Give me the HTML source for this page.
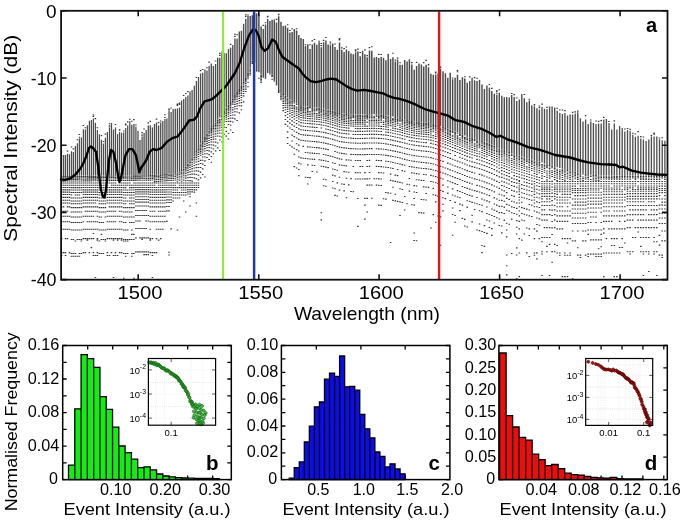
<!DOCTYPE html><html><head><meta charset="utf-8"><style>
html,body{margin:0;padding:0;background:#fff;width:685px;height:522px;overflow:hidden}
svg{display:block;will-change:transform}
</style></head><body>
<svg width="685" height="522" viewBox="0 0 685 522">
<path d="M61.6 155.1V176.0 M63.6 155.1V176.0 M65.5 155.1V175.9 M67.5 153.7V175.9 M69.5 154.3V175.9 M71.5 151.3V175.9 M73.4 152.0V175.9 M75.4 145.9V175.8 M77.4 143.3V175.8 M79.4 138.6V175.8 M81.4 137.6V175.8 M83.4 129.3V175.7 M85.4 129.4V175.7 M87.4 125.3V175.7 M89.4 120.8V175.7 M91.4 120.0V175.7 M93.4 118.4V175.6 M95.4 122.7V175.6 M97.4 130.0V175.6 M99.4 134.3V175.6 M101.4 139.7V175.5 M103.4 143.5V175.5 M105.4 137.8V175.5 M107.4 132.0V175.5 M109.5 128.1V175.5 M111.5 123.0V175.4 M113.5 129.5V175.4 M115.5 127.5V175.4 M117.6 133.9V175.4 M119.6 132.0V175.3 M121.6 132.7V175.3 M123.7 132.5V175.3 M125.7 127.9V175.3 M127.7 125.4V175.3 M129.8 121.2V175.2" stroke="#4d4d4d" stroke-width="1.25" fill="none"/>
<path d="M131.8 124.8V175.2 M133.9 123.9V175.2 M135.9 126.8V175.2 M138.0 130.8V175.1 M140.0 140.0V175.1 M142.1 136.6V175.1 M144.1 133.0V175.1 M146.2 130.0V175.0 M148.3 125.5V175.0 M150.3 125.3V175.0 M152.4 127.6V174.8 M154.5 124.0V174.7 M156.5 122.4V174.5 M158.6 125.6V174.3 M160.7 122.4V174.2 M162.8 121.1V174.0 M164.9 119.1V173.9 M166.9 118.6V173.7 M169.0 110.7V173.5 M171.1 112.0V173.4 M173.2 109.1V173.2 M175.3 108.7V173.1 M177.4 108.6V172.2 M179.5 107.4V171.1 M181.6 100.4V169.9 M183.7 98.9V168.7 M185.8 97.0V166.8 M187.9 95.4V163.6 M190.0 91.4V160.5 M192.1 90.0V157.3 M194.3 85.7V154.0 M196.4 80.9V150.7 M198.5 77.1V147.4 M200.6 73.6V143.6 M202.7 72.7V140.3 M204.9 69.4V137.0 M207.0 70.6V133.7 M209.1 66.0V130.8 M614.3 123.4V175.6 M616.9 129.4V175.6 M619.6 126.1V175.6 M622.2 128.1V175.7 M624.8 131.5V175.7 M627.5 130.0V175.7 M630.1 131.1V175.7 M632.8 134.8V175.7 M635.4 136.7V175.8 M638.1 135.8V175.8 M640.8 138.5V175.8 M643.4 139.4V175.8 M646.1 141.1V175.8 M648.8 139.5V175.9 M651.4 136.8V175.9 M654.1 136.4V175.9 M656.8 136.4V175.9 M659.5 139.2V175.9 M662.2 140.2V176.0 M664.9 140.7V176.0" stroke="#4d4d4d" stroke-width="1.30" fill="none"/>
<path d="M211.3 63.5V128.0 M213.4 66.1V125.2 M215.6 64.0V122.2 M217.7 57.7V119.2 M219.8 57.7V116.3 M222.0 53.2V113.3 M224.1 53.3V110.4 M226.3 53.2V107.6 M228.5 49.0V104.6 M542.0 107.0V162.6 M544.5 108.7V163.3 M547.0 109.2V164.1 M549.6 106.6V164.9 M552.1 106.6V165.6 M554.7 107.6V166.4 M557.2 110.8V167.2 M559.8 113.0V167.9 M562.4 114.0V168.6 M564.9 113.0V169.2 M567.5 115.4V169.9 M570.1 114.4V170.5 M572.6 114.6V171.2 M575.2 113.6V171.8 M577.8 112.3V172.5 M580.4 118.2V173.0 M583.0 121.4V173.4 M585.6 119.6V173.7 M588.2 124.0V174.0 M590.8 121.5V174.3 M593.4 123.0V174.7 M596.0 123.9V175.0 M598.6 123.4V175.3 M601.2 123.6V175.5 M603.8 119.4V175.5 M606.4 118.9V175.5 M609.0 122.9V175.6 M611.7 129.4V175.6" stroke="#4d4d4d" stroke-width="1.35" fill="none"/>
<path d="M230.6 47.7V101.4 M232.8 45.1V98.2 M234.9 38.5V95.0 M237.1 38.7V92.0 M239.3 31.5V89.0 M241.4 30.8V85.9 M243.6 23.7V81.9 M245.8 18.7V77.5 M248.0 16.1V72.7 M506.7 97.0V151.0 M509.2 97.4V152.0 M511.7 94.9V153.5 M514.2 97.0V154.3 M516.7 100.9V155.0 M519.3 99.5V155.8 M521.8 94.3V156.5 M524.3 98.3V157.3 M526.8 102.2V158.0 M529.3 100.5V158.8 M531.8 105.3V159.6 M534.4 106.3V160.3 M536.9 108.2V161.1 M539.4 109.6V161.8" stroke="#4d4d4d" stroke-width="1.40" fill="none"/>
<path d="M250.2 15.9V67.3 M252.3 15.3V60.2 M254.5 13.2V59.8 M256.7 13.3V69.2 M258.9 14.2V72.2 M261.1 26.4V74.7 M263.3 29.1V77.8 M265.5 24.5V78.8 M267.7 18.9V73.0 M269.9 21.0V73.2 M469.7 81.0V137.2 M472.1 77.7V138.0 M474.6 80.2V138.7 M477.0 81.1V139.4 M479.5 80.1V140.0 M482.0 84.6V140.9 M484.4 89.1V141.8 M486.9 85.4V142.7 M489.4 87.8V143.7 M491.8 90.9V144.7 M494.3 93.8V145.8 M496.8 95.0V147.0 M499.3 92.7V148.3 M501.8 95.7V149.2 M504.3 97.2V150.1" stroke="#4d4d4d" stroke-width="1.45" fill="none"/>
<path d="M272.1 19.7V74.7 M274.3 19.4V80.4 M276.5 22.4V85.6 M278.7 16.2V89.2 M281.0 21.8V92.0 M283.2 26.1V93.9 M285.4 25.4V95.7 M287.6 27.8V97.5 M289.9 32.4V99.3 M292.1 32.0V100.8 M294.3 28.9V102.3 M296.6 30.4V103.7 M298.8 34.9V105.0 M301.0 38.0V105.9 M303.3 39.1V106.2 M305.5 46.0V106.5 M307.8 44.2V106.7 M310.0 48.9V107.0 M312.3 44.6V107.1 M314.5 42.7V107.3 M316.8 44.7V107.5 M319.1 42.3V107.8 M321.3 47.3V108.1 M323.6 42.3V108.5 M325.9 40.4V109.0 M328.1 44.5V109.6 M330.4 45.2V110.2 M332.7 43.6V110.8 M335.0 46.9V111.5 M337.3 49.7V112.2 M339.5 42.4V112.9 M341.8 49.8V113.3 M344.1 51.9V113.6 M346.4 49.5V113.9 M348.7 50.9V114.1 M351.0 53.4V114.3 M353.3 54.2V114.5 M355.6 52.2V114.6 M357.9 51.3V114.6 M360.2 56.2V114.6 M362.6 50.7V114.6 M364.9 54.2V114.5 M367.2 57.3V114.4 M369.5 50.5V114.4 M371.8 50.8V114.3 M374.2 57.6V114.3 M376.5 57.0V114.4 M378.8 57.9V114.5 M381.2 56.9V114.7 M383.5 57.8V114.9 M385.9 60.3V115.2 M388.2 53.8V115.6 M390.6 58.9V116.0 M392.9 57.2V116.5 M395.3 61.4V117.0 M397.6 59.6V117.5 M400.0 64.7V118.0 M402.3 64.7V118.7 M404.7 59.9V119.3 M407.1 61.6V119.9 M409.4 59.2V120.4 M411.8 64.4V120.9 M414.2 69.7V121.3 M416.6 66.1V121.7 M419.0 63.6V122.0 M421.4 64.5V122.2 M423.7 66.5V122.5 M426.1 64.7V122.7 M428.5 67.3V123.0 M430.9 73.8V123.4 M433.3 74.8V124.0 M435.7 74.6V124.7 M438.1 73.6V125.4 M440.5 68.8V126.2 M443.0 71.2V127.0 M445.4 73.2V127.9 M447.8 77.7V128.8 M450.2 72.7V129.7 M452.6 79.2V130.7 M455.1 77.7V131.6 M457.5 74.7V132.5 M459.9 80.0V133.4 M462.4 77.3V134.5 M464.8 78.6V135.4 M467.2 82.7V136.4" stroke="#4d4d4d" stroke-width="1.50" fill="none"/>
<path d="M61.6 151.5v1.1M61.6 176.1v1.1M61.6 177.5v1.1M61.6 178.9v1.1M61.6 180.6v1.1M61.6 182.4v1.1M61.6 184.7v1.1M61.6 187.0v1.1M61.6 189.3v1.1M61.6 191.6v1.1M61.6 193.9v1.1M61.6 196.8v1.1M61.6 199.7v1.1M61.6 202.4v1.1M61.6 206.3v1.1M61.6 210.7v1.1M61.6 215.7v1.1M61.6 221.2v1.1M61.6 228.7v1.1M61.6 238.1v1.1M61.6 252.1v1.1M61.6 254.9v1.1M63.6 176.1v1.1M63.6 177.4v1.1M63.6 178.9v1.1M63.6 180.6v1.1M63.6 182.4v1.1M63.6 184.7v1.1M63.6 187.0v1.1M63.6 189.3v1.1M63.6 191.6v1.1M63.6 193.9v1.1M63.6 196.8v1.1M63.6 199.7v1.1M63.6 202.4v1.1M63.6 206.3v1.1M63.6 210.7v1.1M63.6 215.7v1.1M63.6 221.2v1.1M63.6 228.7v1.1M63.6 252.1v1.1M65.5 176.1v1.1M65.5 177.4v1.1M65.5 178.9v1.1M65.5 180.5v1.1M65.5 182.4v1.1M65.5 184.7v1.1M65.5 187.0v1.1M65.5 189.3v1.1M65.5 191.6v1.1M65.5 193.9v1.1M65.5 196.8v1.1M65.5 199.7v1.1M65.5 202.4v1.1M65.5 210.7v1.1M65.5 215.7v1.1M65.5 221.2v1.1M65.5 228.7v1.1M65.5 238.1v1.1M65.5 252.1v1.1M65.5 254.9v1.1M67.5 150.6v1.1M67.5 176.1v1.1M67.5 177.4v1.1M67.5 178.9v1.1M67.5 180.5v1.1M67.5 182.4v1.1M67.5 184.7v1.1M67.5 187.0v1.1M67.5 189.3v1.1M67.5 191.6v1.1M67.5 193.9v1.1M67.5 196.8v1.1M67.5 199.7v1.1M67.5 202.4v1.1M67.5 206.3v1.1M67.5 210.7v1.1M67.5 215.7v1.1M67.5 221.2v1.1M67.5 228.7v1.1M67.5 238.1v1.1M69.5 176.1v1.1M69.5 177.4v1.1M69.5 178.8v1.1M69.5 180.5v1.1M69.5 182.4v1.1M69.5 184.7v1.1M69.5 187.0v1.1M69.5 189.3v1.1M69.5 191.6v1.1M69.5 193.9v1.1M69.5 196.8v1.1M69.5 199.7v1.1M69.5 202.4v1.1M69.5 206.3v1.1M69.5 215.7v1.1M69.5 221.2v1.1M69.5 228.7v1.1M69.5 252.1v1.1M71.5 146.4v1.1M71.5 176.0v1.1M71.5 177.4v1.1M71.5 178.8v1.1M71.5 180.5v1.1M71.5 182.4v1.1M71.5 184.7v1.1M71.5 187.1v1.1M71.5 189.5v1.1M71.5 191.9v1.1M71.5 194.4v1.1M71.5 197.4v1.1M71.5 200.5v1.1M71.5 203.2v1.1M71.5 207.1v1.1M71.5 211.5v1.1M71.5 216.5v1.1M71.5 222.0v1.1M71.5 229.5v1.1M71.5 238.9v1.1M71.5 252.9v1.1M71.5 255.7v1.1M73.4 148.3v1.1M73.4 176.0v1.1M73.4 177.3v1.1M73.4 178.8v1.1M73.4 180.5v1.1M73.4 182.4v1.1M73.4 184.7v1.1M73.4 187.1v1.1M73.4 189.5v1.1M73.4 191.9v1.1M73.4 197.4v1.1M73.4 200.5v1.1M73.4 203.2v1.1M73.4 207.1v1.1M73.4 211.5v1.1M73.4 216.5v1.1M73.4 222.0v1.1M73.4 229.5v1.1M73.4 238.9v1.1M73.4 252.9v1.1M73.4 255.7v1.1M75.4 176.0v1.1M75.4 177.3v1.1M75.4 178.8v1.1M75.4 180.4v1.1M75.4 182.4v1.1M75.4 184.7v1.1M75.4 187.1v1.1M75.4 189.5v1.1M75.4 191.9v1.1M75.4 194.4v1.1M75.4 197.4v1.1M75.4 200.5v1.1M75.4 203.2v1.1M75.4 207.1v1.1M75.4 211.5v1.1M75.4 216.5v1.1M75.4 222.0v1.1M75.4 229.5v1.1M75.4 240.4v1.1M75.4 252.9v1.1M75.4 255.7v1.1M77.4 139.2v1.1M77.4 176.0v1.1M77.4 177.3v1.1M77.4 178.8v1.1M77.4 180.4v1.1M77.4 182.4v1.1M77.4 184.7v1.1M77.4 187.1v1.1M77.4 189.5v1.1M77.4 191.9v1.1M77.4 194.4v1.1M77.4 197.4v1.1M77.4 200.5v1.1M77.4 203.2v1.1M77.4 207.1v1.1M77.4 211.5v1.1M77.4 216.5v1.1M77.4 222.0v1.1M77.4 229.5v1.1M77.4 238.9v1.1M77.4 255.7v1.1M79.4 134.0v1.1M79.4 136.7v1.1M79.4 175.9v1.1M79.4 177.3v1.1M79.4 178.7v1.1M79.4 180.4v1.1M79.4 182.4v1.1M79.4 184.7v1.1M79.4 187.1v1.1M79.4 189.5v1.1M79.4 191.9v1.1M79.4 194.4v1.1M79.4 197.4v1.1M79.4 200.5v1.1M79.4 203.2v1.1M79.4 207.1v1.1M79.4 211.5v1.1M79.4 216.5v1.1M79.4 222.0v1.1M79.4 229.5v1.1M79.4 238.9v1.1M79.4 252.9v1.1M79.4 255.7v1.1M81.4 175.9v1.1M81.4 177.2v1.1M81.4 178.7v1.1M81.4 180.4v1.1M81.4 182.4v1.1M81.4 184.7v1.1M81.4 187.1v1.1M81.4 189.5v1.1M81.4 191.9v1.1M81.4 197.4v1.1M81.4 200.5v1.1M81.4 203.2v1.1M81.4 207.1v1.1M81.4 211.5v1.1M81.4 216.5v1.1M81.4 222.0v1.1M81.4 229.5v1.1M81.4 238.9v1.1M81.4 240.4v1.1M81.4 252.9v1.1M83.4 125.0v1.1M83.4 175.9v1.1M83.4 177.2v1.1M83.4 178.7v1.1M83.4 180.3v1.1M83.4 182.4v1.1M83.4 184.7v1.1M83.4 187.0v1.1M83.4 189.3v1.1M83.4 191.6v1.1M83.4 193.9v1.1M83.4 196.8v1.1M83.4 199.7v1.1M83.4 202.4v1.1M83.4 206.3v1.1M83.4 215.7v1.1M83.4 221.2v1.1M83.4 228.7v1.1M83.4 238.1v1.1M83.4 252.1v1.1M85.4 127.2v1.1M85.4 175.9v1.1M85.4 177.2v1.1M85.4 178.7v1.1M85.4 180.3v1.1M85.4 182.4v1.1M85.4 184.7v1.1M85.4 187.0v1.1M85.4 189.3v1.1M85.4 191.6v1.1M85.4 193.9v1.1M85.4 196.8v1.1M85.4 199.7v1.1M85.4 202.4v1.1M85.4 206.3v1.1M85.4 210.7v1.1M85.4 215.7v1.1M85.4 228.7v1.1M85.4 238.1v1.1M85.4 252.1v1.1M87.4 175.9v1.1M87.4 177.2v1.1M87.4 178.6v1.1M87.4 180.3v1.1M87.4 182.4v1.1M87.4 184.7v1.1M87.4 187.0v1.1M87.4 189.3v1.1M87.4 191.6v1.1M87.4 193.9v1.1M87.4 196.8v1.1M87.4 199.7v1.1M87.4 202.4v1.1M87.4 206.3v1.1M87.4 210.7v1.1M87.4 215.7v1.1M87.4 221.2v1.1M87.4 228.7v1.1M87.4 238.1v1.1M87.4 239.6v1.1M89.4 175.8v1.1M89.4 177.1v1.1M89.4 178.6v1.1M89.4 180.3v1.1M89.4 182.4v1.1M89.4 184.7v1.1M89.4 187.0v1.1M89.4 189.3v1.1M89.4 191.6v1.1M89.4 193.9v1.1M89.4 196.8v1.1M89.4 199.7v1.1M89.4 202.4v1.1M89.4 206.3v1.1M89.4 210.7v1.1M89.4 215.7v1.1M89.4 221.2v1.1M89.4 228.7v1.1M89.4 238.1v1.1M89.4 252.1v1.1M91.4 175.8v1.1M91.4 177.1v1.1M91.4 178.6v1.1M91.4 180.3v1.1M91.4 182.4v1.1M91.4 184.7v1.1M91.4 187.0v1.1M91.4 189.3v1.1M91.4 191.6v1.1M91.4 193.9v1.1M91.4 196.8v1.1M91.4 199.7v1.1M91.4 202.4v1.1M91.4 206.3v1.1M91.4 210.7v1.1M91.4 215.7v1.1M91.4 221.2v1.1M91.4 228.7v1.1M91.4 238.1v1.1M91.4 247.1v1.1M93.4 114.3v1.1M93.4 115.9v1.1M93.4 175.8v1.1M93.4 177.1v1.1M93.4 178.6v1.1M93.4 180.2v1.1M93.4 182.4v1.1M93.4 184.7v1.1M93.4 187.0v1.1M93.4 189.3v1.1M93.4 191.6v1.1M93.4 193.9v1.1M93.4 196.8v1.1M93.4 199.7v1.1M93.4 202.4v1.1M93.4 206.3v1.1M93.4 210.7v1.1M93.4 215.7v1.1M93.4 221.2v1.1M93.4 228.7v1.1M93.4 233.0v1.1M93.4 238.1v1.1M93.4 252.1v1.1M93.4 254.9v1.1M95.4 118.1v1.1M95.4 175.8v1.1M95.4 177.1v1.1M95.4 178.6v1.1M95.4 180.2v1.1M95.4 182.4v1.1M95.4 184.7v1.1M95.4 187.0v1.1M95.4 189.3v1.1M95.4 191.6v1.1M95.4 193.9v1.1M95.4 196.8v1.1M95.4 199.7v1.1M95.4 202.4v1.1M95.4 206.3v1.1M95.4 210.7v1.1M95.4 221.2v1.1M95.4 228.7v1.1M95.4 254.9v1.1M95.4 276.9v1.1M97.4 127.2v1.1M97.4 175.7v1.1M97.4 177.1v1.1M97.4 178.5v1.1M97.4 180.2v1.1M97.4 182.4v1.1M97.4 184.7v1.1M97.4 187.0v1.1M97.4 189.3v1.1M97.4 191.6v1.1M97.4 193.9v1.1M97.4 196.8v1.1M97.4 199.7v1.1M97.4 206.3v1.1M97.4 210.7v1.1M97.4 215.7v1.1M97.4 221.2v1.1M97.4 228.7v1.1M97.4 238.1v1.1M97.4 239.6v1.1M97.4 252.1v1.1M97.4 254.9v1.1M99.4 175.7v1.1M99.4 177.0v1.1M99.4 178.5v1.1M99.4 180.2v1.1M99.4 182.4v1.1M99.4 184.7v1.1M99.4 187.1v1.1M99.4 189.5v1.1M99.4 191.9v1.1M99.4 194.4v1.1M99.4 197.4v1.1M99.4 200.5v1.1M99.4 203.2v1.1M99.4 207.1v1.1M99.4 211.5v1.1M99.4 216.5v1.1M99.4 222.0v1.1M99.4 229.5v1.1M99.4 240.4v1.1M99.4 252.9v1.1M101.4 135.1v1.1M101.4 175.7v1.1M101.4 177.0v1.1M101.4 178.5v1.1M101.4 180.1v1.1M101.4 182.4v1.1M101.4 184.7v1.1M101.4 187.1v1.1M101.4 189.5v1.1M101.4 191.9v1.1M101.4 194.4v1.1M101.4 197.4v1.1M101.4 200.5v1.1M101.4 203.2v1.1M101.4 207.1v1.1M101.4 211.5v1.1M101.4 216.5v1.1M101.4 222.0v1.1M101.4 229.5v1.1M101.4 233.8v1.1M101.4 238.9v1.1M101.4 252.9v1.1M103.4 141.0v1.1M103.4 175.7v1.1M103.4 177.0v1.1M103.4 178.5v1.1M103.4 180.1v1.1M103.4 182.4v1.1M103.4 184.7v1.1M103.4 187.1v1.1M103.4 189.5v1.1M103.4 191.9v1.1M103.4 194.4v1.1M103.4 197.4v1.1M103.4 200.5v1.1M103.4 203.2v1.1M103.4 207.1v1.1M103.4 211.5v1.1M103.4 222.0v1.1M103.4 229.5v1.1M103.4 238.9v1.1M103.4 252.9v1.1M105.4 133.6v1.1M105.4 175.7v1.1M105.4 177.0v1.1M105.4 178.4v1.1M105.4 180.1v1.1M105.4 182.4v1.1M105.4 184.7v1.1M105.4 187.1v1.1M105.4 189.5v1.1M105.4 191.9v1.1M105.4 194.4v1.1M105.4 197.4v1.1M105.4 200.5v1.1M105.4 203.2v1.1M105.4 207.1v1.1M105.4 211.5v1.1M105.4 216.5v1.1M105.4 229.5v1.1M105.4 238.9v1.1M105.4 240.4v1.1M107.4 175.6v1.1M107.4 176.9v1.1M107.4 178.4v1.1M107.4 180.1v1.1M107.4 182.4v1.1M107.4 184.7v1.1M107.4 187.0v1.1M107.4 189.3v1.1M107.4 191.6v1.1M107.4 193.9v1.1M107.4 196.8v1.1M107.4 199.7v1.1M107.4 202.4v1.1M107.4 210.7v1.1M107.4 215.7v1.1M107.4 221.2v1.1M107.4 228.7v1.1M107.4 238.1v1.1M107.4 252.1v1.1M107.4 254.9v1.1M109.5 123.2v1.1M109.5 125.2v1.1M109.5 126.4v1.1M109.5 175.6v1.1M109.5 176.9v1.1M109.5 178.4v1.1M109.5 180.1v1.1M109.5 182.4v1.1M109.5 187.0v1.1M109.5 189.3v1.1M109.5 191.6v1.1M109.5 193.9v1.1M109.5 196.8v1.1M109.5 199.7v1.1M109.5 202.4v1.1M109.5 206.3v1.1M109.5 210.7v1.1M109.5 215.7v1.1M109.5 221.2v1.1M109.5 228.7v1.1M109.5 238.1v1.1M109.5 254.9v1.1M111.5 175.6v1.1M111.5 176.9v1.1M111.5 178.4v1.1M111.5 180.0v1.1M111.5 182.4v1.1M111.5 184.7v1.1M111.5 187.0v1.1M111.5 189.3v1.1M111.5 191.6v1.1M111.5 193.9v1.1M111.5 196.8v1.1M111.5 199.7v1.1M111.5 202.4v1.1M111.5 206.3v1.1M111.5 210.7v1.1M111.5 215.7v1.1M111.5 221.2v1.1M111.5 228.7v1.1M111.5 238.1v1.1M111.5 252.1v1.1M113.5 175.6v1.1M113.5 176.9v1.1M113.5 178.4v1.1M113.5 180.0v1.1M113.5 182.4v1.1M113.5 184.7v1.1M113.5 187.0v1.1M113.5 189.3v1.1M113.5 191.6v1.1M113.5 193.9v1.1M113.5 196.8v1.1M113.5 199.7v1.1M113.5 202.4v1.1M113.5 206.3v1.1M113.5 210.7v1.1M113.5 215.7v1.1M113.5 221.2v1.1M113.5 228.7v1.1M113.5 238.1v1.1M113.5 239.6v1.1M113.5 254.9v1.1M113.5 276.9v1.1M115.5 124.0v1.1M115.5 175.5v1.1M115.5 176.9v1.1M115.5 178.3v1.1M115.5 180.0v1.1M115.5 182.4v1.1M115.5 184.7v1.1M115.5 187.0v1.1M115.5 189.3v1.1M115.5 191.6v1.1M115.5 193.9v1.1M115.5 196.8v1.1M115.5 199.7v1.1M115.5 202.4v1.1M115.5 206.3v1.1M115.5 210.7v1.1M115.5 215.7v1.1M115.5 221.2v1.1M115.5 228.7v1.1M115.5 238.1v1.1M115.5 252.1v1.1M115.5 254.9v1.1M117.6 175.5v1.1M117.6 176.8v1.1M117.6 178.3v1.1M117.6 180.0v1.1M117.6 184.7v1.1M117.6 187.0v1.1M117.6 189.3v1.1M117.6 191.6v1.1M117.6 193.9v1.1M117.6 196.8v1.1M117.6 199.7v1.1M117.6 202.4v1.1M117.6 206.3v1.1M117.6 215.7v1.1M117.6 228.7v1.1M117.6 238.1v1.1M117.6 239.6v1.1M117.6 254.9v1.1M119.6 129.2v1.1M119.6 129.7v1.1M119.6 175.5v1.1M119.6 176.8v1.1M119.6 178.3v1.1M119.6 179.9v1.1M119.6 182.4v1.1M119.6 184.7v1.1M119.6 187.0v1.1M119.6 189.3v1.1M119.6 191.6v1.1M119.6 193.9v1.1M119.6 196.8v1.1M119.6 199.7v1.1M119.6 202.4v1.1M119.6 206.3v1.1M119.6 210.7v1.1M119.6 215.7v1.1M119.6 221.2v1.1M119.6 228.7v1.1M119.6 238.1v1.1M119.6 252.1v1.1M121.6 175.5v1.1M121.6 176.8v1.1M121.6 178.3v1.1M121.6 179.9v1.1M121.6 182.4v1.1M121.6 184.7v1.1M121.6 187.0v1.1M121.6 189.3v1.1M121.6 191.6v1.1M121.6 193.9v1.1M121.6 196.8v1.1M121.6 199.7v1.1M121.6 202.4v1.1M121.6 206.3v1.1M121.6 210.7v1.1M121.6 215.7v1.1M121.6 221.2v1.1M121.6 228.7v1.1M121.6 238.1v1.1M121.6 239.6v1.1M121.6 252.1v1.1M123.7 130.5v1.1M123.7 175.4v1.1M123.7 176.8v1.1M123.7 178.2v1.1M123.7 179.9v1.1M123.7 182.4v1.1M123.7 184.7v1.1M123.7 187.1v1.1M123.7 189.5v1.1M123.7 191.9v1.1M123.7 194.4v1.1M123.7 197.4v1.1M123.7 200.5v1.1M123.7 203.2v1.1M123.7 207.1v1.1M123.7 211.5v1.1M123.7 216.5v1.1M123.7 222.0v1.1M123.7 229.5v1.1M123.7 238.9v1.1M123.7 240.4v1.1M123.7 252.9v1.1M123.7 277.7v1.1M125.7 123.4v1.1M125.7 124.3v1.1M125.7 175.4v1.1M125.7 176.7v1.1M125.7 178.2v1.1M125.7 179.9v1.1M125.7 182.4v1.1M125.7 184.7v1.1M125.7 187.1v1.1M125.7 189.5v1.1M125.7 191.9v1.1M125.7 194.4v1.1M125.7 197.4v1.1M125.7 200.5v1.1M125.7 203.2v1.1M125.7 207.1v1.1M125.7 211.5v1.1M125.7 216.5v1.1M125.7 222.0v1.1M125.7 229.5v1.1M125.7 238.9v1.1M125.7 240.4v1.1M125.7 252.9v1.1M125.7 255.7v1.1M127.7 121.3v1.1M127.7 175.4v1.1M127.7 176.7v1.1M127.7 178.2v1.1M127.7 179.8v1.1M127.7 182.4v1.1M127.7 184.7v1.1M127.7 189.5v1.1M127.7 191.9v1.1M127.7 194.4v1.1M127.7 200.5v1.1M127.7 207.1v1.1M127.7 211.5v1.1M127.7 216.5v1.1M127.7 229.5v1.1M127.7 238.9v1.1M127.7 240.4v1.1M127.7 252.9v1.1M129.8 118.7v1.1M129.8 175.4v1.1M129.8 176.7v1.1M129.8 178.2v1.1M129.8 179.8v1.1M129.8 182.4v1.1M129.8 184.7v1.1M129.8 187.1v1.1M129.8 189.5v1.1M129.8 191.9v1.1M129.8 194.4v1.1M129.8 197.4v1.1M129.8 200.5v1.1M129.8 203.2v1.1M129.8 207.1v1.1M129.8 211.5v1.1M129.8 216.5v1.1M129.8 222.0v1.1M129.8 238.9v1.1M131.8 120.7v1.1M131.8 175.4v1.1M131.8 176.7v1.1M131.8 178.1v1.1M131.8 179.8v1.1M131.8 184.7v1.1M131.8 187.1v1.1M131.8 189.5v1.1M131.8 191.9v1.1M131.8 194.4v1.1M131.8 197.4v1.1M131.8 200.5v1.1M131.8 203.2v1.1M131.8 207.1v1.1M131.8 211.5v1.1M131.8 216.5v1.1M131.8 222.0v1.1M131.8 229.5v1.1M131.8 233.8v1.1M131.8 238.9v1.1M131.8 252.9v1.1M131.8 255.7v1.1M133.9 119.1v1.1M133.9 175.3v1.1M133.9 176.6v1.1M133.9 178.1v1.1M133.9 179.8v1.1M133.9 182.4v1.1M133.9 184.7v1.1M133.9 187.1v1.1M133.9 189.5v1.1M133.9 191.9v1.1M133.9 194.4v1.1M133.9 197.4v1.1M133.9 200.5v1.1M133.9 203.2v1.1M133.9 207.1v1.1M133.9 216.5v1.1M133.9 222.0v1.1M133.9 233.8v1.1M133.9 238.9v1.1M133.9 252.9v1.1M133.9 277.7v1.1M135.9 124.5v1.1M135.9 175.3v1.1M135.9 176.6v1.1M135.9 178.1v1.1M135.9 179.8v1.1M135.9 182.4v1.1M135.9 184.7v1.1M135.9 186.9v1.1M135.9 189.1v1.1M135.9 191.3v1.1M135.9 193.4v1.1M135.9 196.2v1.1M135.9 198.9v1.1M135.9 201.6v1.1M135.9 205.5v1.1M135.9 209.9v1.1M135.9 214.9v1.1M135.9 220.4v1.1M135.9 227.9v1.1M135.9 237.3v1.1M135.9 251.3v1.1M138.0 175.3v1.1M138.0 176.6v1.1M138.0 178.1v1.1M138.0 179.7v1.1M138.0 182.4v1.1M138.0 184.7v1.1M138.0 186.9v1.1M138.0 189.1v1.1M138.0 191.3v1.1M138.0 193.4v1.1M138.0 196.2v1.1M138.0 198.9v1.1M138.0 201.6v1.1M138.0 205.5v1.1M138.0 209.9v1.1M138.0 214.9v1.1M138.0 220.4v1.1M138.0 227.9v1.1M138.0 251.3v1.1M140.0 175.3v1.1M140.0 176.6v1.1M140.0 178.1v1.1M140.0 179.7v1.1M140.0 182.4v1.1M140.0 184.7v1.1M140.0 186.9v1.1M140.0 189.1v1.1M140.0 191.3v1.1M140.0 193.4v1.1M140.0 196.2v1.1M140.0 198.9v1.1M140.0 201.6v1.1M140.0 205.5v1.1M140.0 209.9v1.1M140.0 214.9v1.1M140.0 220.4v1.1M140.0 227.9v1.1M140.0 237.3v1.1M140.0 251.3v1.1M142.1 132.1v1.1M142.1 134.6v1.1M142.1 175.2v1.1M142.1 176.6v1.1M142.1 178.0v1.1M142.1 179.7v1.1M142.1 182.4v1.1M142.1 184.7v1.1M142.1 186.9v1.1M142.1 189.1v1.1M142.1 191.3v1.1M142.1 193.4v1.1M142.1 196.2v1.1M142.1 198.9v1.1M142.1 201.6v1.1M142.1 205.5v1.1M142.1 209.9v1.1M142.1 214.9v1.1M142.1 227.9v1.1M142.1 237.3v1.1M142.1 238.8v1.1M142.1 251.3v1.1M144.1 128.5v1.1M144.1 175.2v1.1M144.1 176.5v1.1M144.1 178.0v1.1M144.1 179.7v1.1M144.1 182.4v1.1M144.1 184.7v1.1M144.1 186.9v1.1M144.1 189.1v1.1M144.1 191.3v1.1M144.1 193.4v1.1M144.1 196.2v1.1M144.1 198.9v1.1M144.1 201.6v1.1M144.1 205.5v1.1M144.1 209.9v1.1M144.1 214.9v1.1M144.1 227.9v1.1M144.1 237.3v1.1M144.1 251.3v1.1M144.1 254.1v1.1M146.2 175.2v1.1M146.2 176.5v1.1M146.2 178.0v1.1M146.2 179.6v1.1M146.2 182.4v1.1M146.2 184.7v1.1M146.2 186.9v1.1M146.2 189.1v1.1M146.2 191.3v1.1M146.2 193.4v1.1M146.2 196.2v1.1M146.2 198.9v1.1M146.2 201.6v1.1M146.2 205.5v1.1M146.2 209.9v1.1M146.2 214.9v1.1M146.2 220.4v1.1M146.2 227.9v1.1M146.2 237.3v1.1M146.2 251.3v1.1M146.2 254.1v1.1M148.3 122.3v1.1M148.3 175.2v1.1M148.3 176.5v1.1M148.3 178.0v1.1M148.3 179.6v1.1M148.3 182.4v1.1M148.3 184.7v1.1M148.3 186.9v1.1M148.3 189.1v1.1M148.3 191.3v1.1M148.3 193.4v1.1M148.3 196.2v1.1M148.3 198.9v1.1M148.3 201.6v1.1M148.3 205.5v1.1M148.3 214.9v1.1M148.3 220.4v1.1M148.3 237.3v1.1M148.3 251.3v1.1M148.3 254.1v1.1M150.3 120.8v1.1M150.3 175.1v1.1M150.3 176.4v1.1M150.3 177.9v1.1M150.3 179.6v1.1M150.3 182.4v1.1M150.3 184.7v1.1M150.3 187.0v1.1M150.3 189.3v1.1M150.3 191.6v1.1M150.3 193.9v1.1M150.3 196.8v1.1M150.3 199.7v1.1M150.3 202.4v1.1M150.3 206.3v1.1M150.3 210.7v1.1M150.3 215.7v1.1M150.3 221.2v1.1M150.3 228.7v1.1M150.3 238.1v1.1M150.3 239.6v1.1M150.3 252.1v1.1M152.4 175.0v1.1M152.4 176.3v1.1M152.4 177.8v1.1M152.4 179.4v1.1M152.4 182.4v1.1M152.4 184.7v1.1M152.4 187.0v1.1M152.4 189.3v1.1M152.4 191.6v1.1M152.4 193.9v1.1M152.4 196.8v1.1M152.4 199.7v1.1M152.4 202.4v1.1M152.4 206.3v1.1M152.4 210.7v1.1M152.4 215.7v1.1M152.4 221.2v1.1M152.4 238.1v1.1M152.4 252.1v1.1M152.4 254.9v1.1M152.4 276.9v1.1M154.5 174.8v1.1M154.5 176.1v1.1M154.5 177.6v1.1M154.5 179.3v1.1M154.5 181.1v1.1M154.5 182.4v1.1M154.5 184.7v1.1M154.5 187.0v1.1M154.5 189.3v1.1M154.5 191.6v1.1M154.5 193.9v1.1M154.5 196.8v1.1M154.5 199.7v1.1M154.5 202.4v1.1M154.5 206.3v1.1M154.5 210.7v1.1M154.5 215.7v1.1M154.5 221.2v1.1M154.5 252.1v1.1M156.5 118.6v1.1M156.5 174.6v1.1M156.5 176.0v1.1M156.5 177.4v1.1M156.5 179.1v1.1M156.5 180.9v1.1M156.5 182.4v1.1M156.5 187.0v1.1M156.5 189.3v1.1M156.5 191.6v1.1M156.5 193.9v1.1M156.5 196.8v1.1M156.5 199.7v1.1M156.5 202.4v1.1M156.5 206.3v1.1M156.5 215.7v1.1M156.5 221.2v1.1M156.5 228.7v1.1M156.5 238.1v1.1M156.5 252.1v1.1M158.6 122.1v1.1M158.6 174.5v1.1M158.6 175.8v1.1M158.6 177.3v1.1M158.6 178.9v1.1M158.6 180.8v1.1M158.6 182.4v1.1M158.6 184.7v1.1M158.6 187.0v1.1M158.6 189.3v1.1M158.6 191.6v1.1M158.6 193.9v1.1M158.6 196.8v1.1M158.6 199.7v1.1M158.6 202.4v1.1M158.6 206.3v1.1M158.6 210.7v1.1M158.6 215.7v1.1M158.6 221.2v1.1M158.6 228.7v1.1M158.6 239.6v1.1M160.7 120.5v1.1M160.7 174.3v1.1M160.7 175.6v1.1M160.7 177.1v1.1M160.7 178.8v1.1M160.7 180.6v1.1M160.7 182.4v1.1M160.7 184.7v1.1M160.7 187.0v1.1M160.7 189.3v1.1M160.7 191.6v1.1M160.7 193.9v1.1M160.7 196.8v1.1M160.7 199.7v1.1M160.7 202.4v1.1M160.7 206.3v1.1M160.7 210.7v1.1M160.7 215.7v1.1M160.7 221.2v1.1M160.7 228.7v1.1M160.7 238.1v1.1M162.8 174.2v1.1M162.8 175.5v1.1M162.8 177.0v1.1M162.8 178.6v1.1M162.8 180.5v1.1M162.8 182.4v1.1M162.8 184.7v1.1M162.8 187.0v1.1M162.8 189.3v1.1M162.8 191.6v1.1M162.8 193.9v1.1M162.8 196.8v1.1M162.8 199.7v1.1M162.8 202.4v1.1M162.8 206.3v1.1M162.8 210.7v1.1M162.8 215.7v1.1M162.8 221.2v1.1M162.8 228.7v1.1M164.9 114.2v1.1M164.9 116.9v1.1M164.9 174.0v1.1M164.9 175.3v1.1M164.9 176.8v1.1M164.9 178.5v1.1M164.9 180.3v1.1M164.9 182.4v1.1M164.9 184.7v1.1M164.9 187.0v1.1M164.9 189.3v1.1M164.9 191.6v1.1M164.9 193.9v1.1M164.9 196.8v1.1M164.9 199.7v1.1M164.9 202.4v1.1M164.9 206.3v1.1M164.9 210.7v1.1M164.9 215.7v1.1M164.9 221.2v1.1M166.9 173.8v1.1M166.9 175.2v1.1M166.9 176.6v1.1M166.9 178.3v1.1M166.9 180.1v1.1M166.9 182.4v1.1M166.9 184.7v1.1M166.9 186.9v1.1M166.9 189.2v1.1M166.9 191.4v1.1M166.9 193.7v1.1M166.9 196.5v1.1M166.9 199.3v1.1M166.9 202.0v1.1M166.9 205.9v1.1M166.9 210.3v1.1M166.9 220.8v1.1M169.0 108.6v1.1M169.0 109.1v1.1M169.0 173.7v1.1M169.0 175.0v1.1M169.0 176.5v1.1M169.0 178.1v1.1M169.0 180.0v1.1M169.0 182.4v1.1M169.0 184.7v1.1M169.0 186.9v1.1M169.0 189.2v1.1M169.0 191.4v1.1M169.0 193.7v1.1M169.0 196.5v1.1M169.0 199.3v1.1M169.0 202.0v1.1M169.0 205.9v1.1M169.0 210.3v1.1M169.0 251.7v1.1M169.0 254.5v1.1M171.1 107.5v1.1M171.1 173.5v1.1M171.1 174.8v1.1M171.1 176.3v1.1M171.1 178.0v1.1M171.1 179.8v1.1M171.1 182.4v1.1M171.1 184.7v1.1M171.1 186.9v1.1M171.1 189.2v1.1M171.1 191.4v1.1M171.1 193.7v1.1M171.1 196.5v1.1M171.1 199.3v1.1M171.1 202.0v1.1M171.1 228.3v1.1M173.2 173.4v1.1M173.2 174.7v1.1M173.2 176.2v1.1M173.2 177.8v1.1M173.2 179.7v1.1M173.2 182.4v1.1M173.2 184.7v1.1M173.2 187.1v1.1M173.2 189.5v1.1M173.2 191.9v1.1M173.2 194.4v1.1M173.2 197.4v1.1M173.2 200.5v1.1M175.3 173.2v1.1M175.3 174.5v1.1M175.3 176.0v1.1M175.3 177.7v1.1M175.3 179.5v1.1M175.3 182.4v1.1M175.3 184.7v1.1M175.3 187.1v1.1M175.3 189.5v1.1M175.3 191.9v1.1M175.3 194.4v1.1M175.3 197.4v1.1M177.4 103.6v1.1M177.4 104.8v1.1M177.4 172.4v1.1M177.4 173.7v1.1M177.4 175.2v1.1M177.4 176.8v1.1M177.4 178.7v1.1M177.4 180.7v1.1M177.4 182.4v1.1M177.4 187.1v1.1M177.4 189.5v1.1M177.4 191.9v1.1M177.4 194.4v1.1M177.4 197.4v1.1M177.4 229.5v1.1M179.5 102.6v1.1M179.5 103.8v1.1M179.5 171.2v1.1M179.5 172.5v1.1M179.5 174.0v1.1M179.5 175.7v1.1M179.5 177.5v1.1M179.5 179.6v1.1M179.5 182.4v1.1M179.5 184.7v1.1M179.5 187.1v1.1M179.5 191.9v1.1M179.5 194.4v1.1M179.5 197.4v1.1M179.5 216.5v1.1M181.6 170.0v1.1M181.6 171.4v1.1M181.6 172.8v1.1M181.6 174.5v1.1M181.6 176.3v1.1M181.6 178.4v1.1M181.6 180.7v1.1M181.6 182.4v1.1M181.6 184.7v1.1M181.6 187.1v1.1M181.6 189.5v1.1M181.6 191.9v1.1M181.6 194.4v1.1M183.7 94.9v1.1M183.7 168.9v1.1M183.7 170.2v1.1M183.7 171.7v1.1M183.7 173.3v1.1M183.7 175.2v1.1M183.7 177.2v1.1M183.7 179.6v1.1M183.7 182.4v1.1M183.7 184.7v1.1M183.7 187.1v1.1M183.7 189.5v1.1M183.7 191.9v1.1M183.7 194.4v1.1M183.7 200.5v1.1M185.8 93.0v1.1M185.8 166.9v1.1M185.8 168.3v1.1M185.8 169.7v1.1M185.8 171.4v1.1M185.8 173.2v1.1M185.8 175.3v1.1M185.8 177.6v1.1M185.8 180.2v1.1M185.8 182.4v1.1M185.8 184.7v1.1M185.8 187.1v1.1M185.8 189.5v1.1M185.8 191.9v1.1M185.8 194.4v1.1M185.8 211.5v1.1M187.9 91.1v1.1M187.9 163.8v1.1M187.9 165.1v1.1M187.9 166.6v1.1M187.9 168.2v1.1M187.9 170.1v1.1M187.9 172.1v1.1M187.9 174.5v1.1M187.9 177.1v1.1M187.9 180.0v1.1M187.9 182.4v1.1M187.9 184.7v1.1M187.9 186.9v1.1M187.9 189.1v1.1M187.9 191.3v1.1M187.9 193.4v1.1M190.0 160.6v1.1M190.0 161.9v1.1M190.0 163.4v1.1M190.0 165.1v1.1M190.0 166.9v1.1M190.0 169.0v1.1M190.0 171.3v1.1M190.0 173.9v1.1M190.0 176.8v1.1M190.0 180.1v1.1M190.0 182.4v1.1M190.0 184.7v1.1M190.0 186.9v1.1M190.0 189.1v1.1M190.0 191.3v1.1M190.0 193.4v1.1M190.0 196.2v1.1M190.0 205.5v1.1M192.1 157.4v1.1M192.1 158.8v1.1M192.1 160.2v1.1M192.1 161.9v1.1M192.1 163.7v1.1M192.1 165.8v1.1M192.1 168.1v1.1M192.1 170.7v1.1M192.1 173.6v1.1M192.1 176.9v1.1M192.1 180.6v1.1M192.1 182.4v1.1M192.1 184.7v1.1M192.1 186.9v1.1M192.1 189.1v1.1M192.1 191.3v1.1M194.3 154.2v1.1M194.3 155.5v1.1M194.3 157.0v1.1M194.3 158.6v1.1M194.3 160.5v1.1M194.3 162.5v1.1M194.3 164.9v1.1M194.3 167.5v1.1M194.3 170.4v1.1M194.3 173.6v1.1M194.3 177.3v1.1M194.3 182.4v1.1M194.3 184.7v1.1M194.3 187.0v1.1M194.3 189.3v1.1M194.3 191.6v1.1M196.4 76.9v1.1M196.4 150.8v1.1M196.4 152.2v1.1M196.4 153.6v1.1M196.4 155.3v1.1M196.4 157.1v1.1M196.4 159.2v1.1M196.4 161.5v1.1M196.4 164.1v1.1M196.4 167.1v1.1M196.4 170.3v1.1M196.4 174.0v1.1M196.4 178.1v1.1M196.4 182.4v1.1M196.4 184.7v1.1M196.4 187.0v1.1M196.4 189.3v1.1M196.4 202.4v1.1M196.4 215.7v1.1M198.5 147.5v1.1M198.5 148.8v1.1M198.5 150.3v1.1M198.5 152.0v1.1M198.5 153.8v1.1M198.5 155.9v1.1M198.5 158.2v1.1M198.5 160.8v1.1M198.5 163.7v1.1M198.5 167.0v1.1M198.5 170.6v1.1M198.5 174.7v1.1M198.5 179.3v1.1M198.5 182.4v1.1M198.5 184.7v1.1M198.5 187.0v1.1M200.6 70.1v1.1M200.6 143.7v1.1M200.6 144.9v1.1M200.6 146.2v1.1M200.6 147.6v1.1M200.6 149.1v1.1M200.6 150.8v1.1M200.6 152.6v1.1M200.6 154.7v1.1M200.6 159.8v1.1M200.6 163.0v1.1M200.6 166.9v1.1M200.6 171.6v1.1M200.6 177.3v1.1M202.7 69.0v1.1M202.7 140.4v1.1M202.7 141.6v1.1M202.7 142.9v1.1M202.7 144.3v1.1M202.7 145.8v1.1M202.7 147.5v1.1M202.7 149.3v1.1M202.7 151.4v1.1M202.7 153.7v1.1M202.7 156.5v1.1M202.7 159.7v1.1M202.7 163.6v1.1M202.7 168.3v1.1M202.7 174.0v1.1M204.9 137.1v1.1M204.9 138.3v1.1M204.9 139.6v1.1M204.9 141.0v1.1M204.9 142.5v1.1M204.9 144.2v1.1M204.9 146.0v1.1M204.9 148.1v1.1M204.9 150.5v1.1M204.9 153.2v1.1M204.9 156.4v1.1M204.9 160.3v1.1M204.9 165.0v1.1M204.9 176.5v1.1M207.0 67.2v1.1M207.0 133.9v1.1M207.0 135.1v1.1M207.0 136.4v1.1M207.0 137.8v1.1M207.0 139.3v1.1M207.0 140.9v1.1M207.0 142.8v1.1M207.0 144.8v1.1M207.0 147.2v1.1M207.0 149.9v1.1M207.0 153.2v1.1M207.0 157.0v1.1M209.1 61.6v1.1M209.1 131.0v1.1M209.1 132.2v1.1M209.1 133.5v1.1M209.1 134.9v1.1M209.1 136.4v1.1M209.1 138.0v1.1M209.1 139.9v1.1M209.1 141.9v1.1M209.1 144.3v1.1M209.1 147.0v1.1M209.1 150.3v1.1M209.1 154.1v1.1M209.1 158.9v1.1M211.3 128.1v1.1M211.3 129.3v1.1M211.3 130.6v1.1M211.3 132.0v1.1M211.3 133.5v1.1M211.3 135.2v1.1M211.3 137.0v1.1M211.3 139.1v1.1M211.3 141.4v1.1M211.3 144.2v1.1M211.3 147.4v1.1M211.3 151.3v1.1M211.3 156.0v1.1M211.3 161.7v1.1M213.4 125.3v1.1M213.4 126.5v1.1M213.4 127.8v1.1M213.4 129.2v1.1M213.4 130.7v1.1M213.4 132.4v1.1M213.4 134.2v1.1M213.4 136.3v1.1M213.4 138.6v1.1M213.4 141.4v1.1M213.4 144.6v1.1M213.4 148.5v1.1M213.4 153.2v1.1M215.6 60.4v1.1M215.6 122.4v1.1M215.6 123.6v1.1M215.6 124.9v1.1M215.6 126.2v1.1M215.6 127.8v1.1M215.6 129.4v1.1M215.6 131.2v1.1M215.6 133.3v1.1M215.6 135.7v1.1M215.6 138.4v1.1M215.6 141.6v1.1M215.6 145.5v1.1M215.6 150.3v1.1M217.7 119.4v1.1M217.7 120.6v1.1M217.7 121.9v1.1M217.7 123.2v1.1M217.7 124.8v1.1M217.7 126.4v1.1M217.7 128.2v1.1M217.7 130.3v1.1M217.7 132.7v1.1M217.7 135.4v1.1M217.7 142.5v1.1M217.7 147.3v1.1M219.8 52.8v1.1M219.8 54.8v1.1M219.8 116.4v1.1M219.8 118.9v1.1M219.8 120.3v1.1M219.8 121.8v1.1M219.8 123.4v1.1M219.8 125.3v1.1M219.8 127.4v1.1M219.8 129.7v1.1M219.8 132.4v1.1M219.8 135.7v1.1M219.8 139.5v1.1M219.8 150.0v1.1M222.0 51.4v1.1M222.0 113.5v1.1M222.0 114.7v1.1M222.0 116.0v1.1M222.0 117.4v1.1M222.0 118.9v1.1M222.0 120.5v1.1M222.0 122.4v1.1M222.0 124.4v1.1M222.0 126.8v1.1M222.0 129.5v1.1M222.0 132.7v1.1M222.0 136.6v1.1M222.0 141.4v1.1M224.1 110.6v1.1M224.1 111.8v1.1M224.1 113.1v1.1M224.1 114.5v1.1M224.1 116.0v1.1M224.1 117.6v1.1M224.1 119.5v1.1M224.1 121.5v1.1M224.1 123.9v1.1M224.1 126.6v1.1M224.1 133.7v1.1M226.3 107.7v1.1M226.3 108.9v1.1M226.3 110.2v1.1M226.3 111.6v1.1M226.3 113.1v1.1M226.3 114.8v1.1M226.3 116.6v1.1M226.3 118.7v1.1M226.3 121.0v1.1M226.3 127.0v1.1M226.3 130.8v1.1M226.3 135.6v1.1M228.5 104.8v1.1M228.5 106.0v1.1M228.5 107.3v1.1M228.5 108.6v1.1M228.5 110.2v1.1M228.5 111.8v1.1M228.5 113.6v1.1M228.5 115.7v1.1M228.5 118.1v1.1M228.5 120.8v1.1M228.5 124.0v1.1M228.5 132.7v1.1M228.5 138.4v1.1M230.6 43.8v1.1M230.6 101.6v1.1M230.6 102.8v1.1M230.6 104.1v1.1M230.6 105.5v1.1M230.6 107.0v1.1M230.6 108.6v1.1M230.6 110.5v1.1M230.6 112.5v1.1M230.6 114.9v1.1M230.6 117.6v1.1M230.6 120.8v1.1M230.6 124.7v1.1M230.6 129.5v1.1M232.8 98.4v1.1M232.8 99.6v1.1M232.8 100.9v1.1M232.8 102.2v1.1M232.8 103.7v1.1M232.8 107.2v1.1M232.8 109.3v1.1M232.8 111.7v1.1M232.8 114.4v1.1M232.8 117.6v1.1M232.8 121.5v1.1M232.8 132.0v1.1M234.9 33.7v1.1M234.9 35.8v1.1M234.9 95.1v1.1M234.9 96.3v1.1M234.9 97.6v1.1M234.9 99.0v1.1M234.9 100.5v1.1M234.9 102.2v1.1M234.9 104.0v1.1M234.9 106.1v1.1M234.9 108.4v1.1M234.9 111.2v1.1M234.9 114.4v1.1M234.9 118.3v1.1M237.1 34.2v1.1M237.1 92.1v1.1M237.1 93.3v1.1M237.1 94.6v1.1M237.1 96.0v1.1M237.1 97.5v1.1M237.1 99.2v1.1M237.1 101.0v1.1M237.1 103.1v1.1M237.1 105.4v1.1M237.1 108.2v1.1M237.1 111.4v1.1M237.1 120.0v1.1M239.3 89.1v1.1M239.3 90.3v1.1M239.3 91.6v1.1M239.3 93.0v1.1M239.3 94.5v1.1M239.3 96.2v1.1M239.3 98.0v1.1M239.3 100.1v1.1M239.3 102.4v1.1M239.3 105.2v1.1M239.3 112.3v1.1M241.4 86.1v1.1M241.4 87.3v1.1M241.4 88.6v1.1M241.4 89.9v1.1M241.4 91.4v1.1M241.4 93.1v1.1M241.4 94.9v1.1M241.4 97.0v1.1M241.4 99.4v1.1M241.4 102.1v1.1M241.4 105.3v1.1M241.4 109.2v1.1M243.6 82.0v1.1M243.6 83.2v1.1M243.6 84.5v1.1M243.6 85.9v1.1M243.6 87.4v1.1M243.6 89.1v1.1M243.6 90.9v1.1M243.6 93.0v1.1M243.6 95.3v1.1M243.6 101.3v1.1M245.8 14.3v1.1M245.8 16.0v1.1M245.8 77.6v1.1M245.8 78.8v1.1M245.8 80.1v1.1M245.8 81.5v1.1M245.8 83.0v1.1M245.8 84.7v1.1M245.8 86.5v1.1M245.8 88.6v1.1M245.8 90.9v1.1M248.0 14.5v1.1M248.0 72.8v1.1M248.0 74.1v1.1M248.0 75.3v1.1M248.0 76.7v1.1M248.0 78.2v1.1M248.0 81.7v1.1M248.0 86.2v1.1M250.2 67.5v1.1M250.2 68.7v1.1M250.2 70.0v1.1M250.2 71.3v1.1M250.2 72.9v1.1M250.2 74.5v1.1M252.3 60.4v1.1M252.3 61.6v1.1M252.3 62.9v1.1M254.5 60.0v1.1M254.5 61.2v1.1M256.7 69.3v1.1M256.7 70.5v1.1M258.9 77.7v1.1M261.1 74.9v1.1M261.1 76.1v1.1M261.1 77.4v1.1M261.1 78.8v1.1M261.1 80.3v1.1M261.1 81.9v1.1M263.3 24.8v1.1M265.5 22.2v1.1M267.7 15.8v1.1M267.7 16.5v1.1M269.9 73.4v1.1M272.1 74.8v1.1M272.1 76.0v1.1M272.1 78.7v1.1M274.3 80.5v1.1M276.5 18.8v1.1M278.7 13.8v1.1M278.7 14.2v1.1M278.7 89.3v1.1M278.7 90.6v1.1M278.7 91.8v1.1M281.0 92.2v1.1M281.0 93.4v1.1M281.0 94.7v1.1M281.0 96.1v1.1M281.0 97.6v1.1M281.0 99.2v1.1M283.2 94.0v1.1M283.2 95.2v1.1M283.2 96.5v1.1M283.2 97.9v1.1M283.2 99.4v1.1M283.2 101.1v1.1M283.2 102.9v1.1M283.2 105.0v1.1M283.2 107.3v1.1M283.2 110.1v1.1M285.4 95.9v1.1M285.4 97.1v1.1M285.4 98.4v1.1M285.4 99.7v1.1M285.4 101.3v1.1M285.4 102.9v1.1M285.4 104.7v1.1M285.4 106.8v1.1M285.4 109.2v1.1M285.4 111.9v1.1M285.4 115.1v1.1M285.4 119.0v1.1M285.4 123.8v1.1M287.6 24.2v1.1M287.6 97.7v1.1M287.6 98.9v1.1M287.6 100.2v1.1M287.6 101.6v1.1M287.6 103.1v1.1M287.6 104.7v1.1M287.6 106.6v1.1M287.6 108.6v1.1M287.6 111.0v1.1M287.6 113.7v1.1M287.6 116.9v1.1M287.6 120.8v1.1M287.6 125.6v1.1M287.6 131.3v1.1M287.6 137.1v1.1M287.6 143.0v1.1M289.9 30.0v1.1M289.9 99.5v1.1M289.9 100.7v1.1M289.9 102.0v1.1M289.9 103.3v1.1M289.9 104.9v1.1M289.9 106.5v1.1M289.9 108.3v1.1M289.9 110.4v1.1M289.9 112.8v1.1M289.9 115.5v1.1M289.9 118.7v1.1M289.9 122.6v1.1M289.9 127.4v1.1M289.9 144.7v1.1M292.1 28.2v1.1M292.1 101.0v1.1M292.1 102.2v1.1M292.1 103.5v1.1M292.1 104.9v1.1M292.1 106.4v1.1M292.1 108.0v1.1M292.1 109.9v1.1M292.1 111.9v1.1M292.1 114.3v1.1M292.1 117.0v1.1M292.1 120.3v1.1M292.1 124.1v1.1M292.1 128.9v1.1M292.1 134.6v1.1M292.1 140.4v1.1M292.1 146.3v1.1M294.3 102.5v1.1M294.3 104.9v1.1M294.3 106.3v1.1M294.3 107.8v1.1M294.3 109.5v1.1M294.3 111.3v1.1M294.3 113.4v1.1M294.3 115.8v1.1M294.3 118.5v1.1M294.3 121.7v1.1M294.3 125.6v1.1M294.3 130.4v1.1M294.3 136.1v1.1M294.3 147.7v1.1M294.3 153.7v1.1M294.3 166.1v1.1M296.6 28.2v1.1M296.6 103.9v1.1M296.6 106.4v1.1M296.6 107.7v1.1M296.6 109.2v1.1M296.6 110.9v1.1M296.6 112.7v1.1M296.6 114.8v1.1M296.6 117.2v1.1M296.6 119.9v1.1M296.6 123.1v1.1M296.6 127.0v1.1M296.6 131.8v1.1M296.6 137.5v1.1M296.6 143.2v1.1M296.6 149.1v1.1M296.6 167.5v1.1M298.8 105.2v1.1M298.8 106.4v1.1M298.8 107.7v1.1M298.8 109.1v1.1M298.8 110.6v1.1M298.8 112.2v1.1M298.8 114.1v1.1M298.8 116.1v1.1M298.8 118.5v1.1M298.8 121.2v1.1M298.8 124.5v1.1M298.8 128.3v1.1M298.8 133.1v1.1M298.8 138.8v1.1M298.8 144.6v1.1M298.8 150.5v1.1M298.8 156.5v1.1M298.8 162.6v1.1M298.8 168.9v1.1M298.8 175.2v1.1M301.0 106.1v1.1M301.0 107.3v1.1M301.0 108.6v1.1M301.0 109.9v1.1M301.0 111.5v1.1M301.0 113.1v1.1M301.0 114.9v1.1M301.0 117.0v1.1M301.0 119.4v1.1M301.0 122.1v1.1M301.0 125.3v1.1M301.0 129.2v1.1M301.0 134.0v1.1M301.0 139.7v1.1M301.0 157.3v1.1M301.0 163.5v1.1M303.3 106.4v1.1M303.3 107.6v1.1M303.3 108.9v1.1M303.3 110.3v1.1M303.3 111.8v1.1M303.3 113.4v1.1M303.3 115.3v1.1M303.3 117.3v1.1M303.3 119.7v1.1M303.3 122.4v1.1M303.3 125.7v1.1M303.3 129.5v1.1M303.3 134.3v1.1M303.3 140.0v1.1M303.3 145.8v1.1M303.3 157.7v1.1M305.5 44.2v1.1M305.5 106.7v1.1M305.5 107.9v1.1M305.5 109.2v1.1M305.5 110.5v1.1M305.5 112.1v1.1M305.5 113.7v1.1M305.5 115.5v1.1M305.5 117.6v1.1M305.5 120.0v1.1M305.5 122.7v1.1M305.5 125.9v1.1M305.5 129.8v1.1M305.5 134.6v1.1M305.5 140.3v1.1M305.5 151.9v1.1M305.5 157.9v1.1M305.5 176.7v1.1M307.8 106.9v1.1M307.8 108.1v1.1M307.8 109.4v1.1M307.8 110.8v1.1M307.8 112.3v1.1M307.8 113.9v1.1M307.8 115.8v1.1M307.8 117.9v1.1M307.8 120.2v1.1M307.8 122.9v1.1M307.8 126.2v1.1M307.8 130.0v1.1M307.8 134.8v1.1M307.8 140.5v1.1M307.8 146.3v1.1M307.8 152.2v1.1M307.8 158.2v1.1M307.8 164.3v1.1M307.8 176.9v1.1M307.8 183.4v1.1M310.0 44.2v1.1M310.0 107.1v1.1M310.0 111.0v1.1M310.0 112.5v1.1M310.0 114.1v1.1M310.0 116.0v1.1M310.0 118.1v1.1M310.0 120.4v1.1M310.0 123.1v1.1M310.0 126.4v1.1M310.0 130.2v1.1M310.0 135.0v1.1M310.0 140.7v1.1M310.0 146.5v1.1M310.0 152.4v1.1M310.0 158.4v1.1M310.0 177.1v1.1M312.3 40.3v1.1M312.3 107.3v1.1M312.3 108.5v1.1M312.3 109.8v1.1M312.3 111.2v1.1M312.3 112.7v1.1M312.3 114.3v1.1M312.3 116.2v1.1M312.3 118.2v1.1M312.3 120.6v1.1M312.3 123.3v1.1M312.3 126.6v1.1M312.3 130.4v1.1M312.3 135.2v1.1M312.3 140.9v1.1M312.3 146.7v1.1M312.3 152.6v1.1M312.3 158.6v1.1M312.3 164.7v1.1M312.3 171.0v1.1M314.5 38.9v1.1M314.5 107.5v1.1M314.5 108.7v1.1M314.5 110.0v1.1M314.5 111.4v1.1M314.5 112.9v1.1M314.5 114.5v1.1M314.5 116.4v1.1M314.5 118.4v1.1M314.5 120.8v1.1M314.5 123.5v1.1M314.5 126.8v1.1M314.5 130.6v1.1M314.5 135.4v1.1M314.5 141.1v1.1M314.5 146.9v1.1M314.5 152.8v1.1M314.5 158.8v1.1M314.5 164.9v1.1M316.8 107.7v1.1M316.8 108.9v1.1M316.8 110.2v1.1M316.8 113.1v1.1M316.8 114.7v1.1M316.8 116.6v1.1M316.8 118.6v1.1M316.8 121.0v1.1M316.8 123.7v1.1M316.8 127.0v1.1M316.8 130.8v1.1M316.8 135.6v1.1M316.8 141.3v1.1M316.8 147.1v1.1M316.8 153.0v1.1M316.8 171.4v1.1M319.1 40.7v1.1M319.1 107.9v1.1M319.1 109.1v1.1M319.1 110.4v1.1M319.1 111.8v1.1M319.1 113.3v1.1M319.1 115.0v1.1M319.1 116.8v1.1M319.1 118.9v1.1M319.1 121.2v1.1M319.1 124.0v1.1M319.1 131.1v1.1M319.1 135.8v1.1M319.1 141.5v1.1M319.1 147.3v1.1M319.1 153.2v1.1M319.1 159.2v1.1M321.3 43.0v1.1M321.3 45.1v1.1M321.3 108.3v1.1M321.3 109.5v1.1M321.3 110.8v1.1M321.3 112.2v1.1M321.3 113.7v1.1M321.3 115.3v1.1M321.3 117.2v1.1M321.3 119.2v1.1M321.3 121.6v1.1M321.3 124.3v1.1M321.3 127.5v1.1M321.3 131.4v1.1M321.3 136.2v1.1M321.3 141.9v1.1M321.3 147.7v1.1M321.3 159.6v1.1M321.3 165.7v1.1M321.3 212.2v1.1M321.3 219.3v1.1M323.6 39.8v1.1M323.6 108.7v1.1M323.6 109.9v1.1M323.6 111.2v1.1M323.6 112.6v1.1M323.6 114.1v1.1M323.6 115.7v1.1M323.6 117.6v1.1M323.6 119.7v1.1M323.6 122.0v1.1M323.6 124.7v1.1M323.6 131.8v1.1M323.6 136.6v1.1M323.6 142.3v1.1M323.6 148.1v1.1M323.6 154.0v1.1M323.6 160.0v1.1M323.6 166.1v1.1M323.6 178.7v1.1M323.6 185.2v1.1M325.9 36.9v1.1M325.9 109.2v1.1M325.9 110.4v1.1M325.9 111.7v1.1M325.9 113.1v1.1M325.9 114.6v1.1M325.9 116.2v1.1M325.9 118.1v1.1M325.9 120.1v1.1M325.9 122.5v1.1M325.9 125.2v1.1M325.9 128.5v1.1M325.9 132.3v1.1M325.9 137.1v1.1M325.9 142.8v1.1M325.9 148.6v1.1M325.9 154.5v1.1M325.9 160.5v1.1M325.9 166.6v1.1M325.9 179.2v1.1M325.9 185.7v1.1M328.1 109.7v1.1M328.1 110.9v1.1M328.1 112.2v1.1M328.1 113.6v1.1M328.1 115.1v1.1M328.1 116.8v1.1M328.1 118.6v1.1M328.1 120.7v1.1M328.1 123.0v1.1M328.1 125.8v1.1M328.1 129.0v1.1M328.1 132.9v1.1M328.1 137.6v1.1M328.1 143.3v1.1M328.1 149.1v1.1M328.1 155.0v1.1M328.1 161.0v1.1M328.1 167.1v1.1M330.4 41.6v1.1M330.4 43.5v1.1M330.4 110.3v1.1M330.4 111.5v1.1M330.4 112.8v1.1M330.4 114.2v1.1M330.4 115.7v1.1M330.4 117.4v1.1M330.4 119.2v1.1M330.4 121.3v1.1M330.4 123.6v1.1M330.4 126.4v1.1M330.4 129.6v1.1M330.4 133.4v1.1M330.4 138.2v1.1M330.4 143.9v1.1M330.4 155.6v1.1M332.7 110.9v1.1M332.7 112.1v1.1M332.7 113.4v1.1M332.7 114.8v1.1M332.7 116.3v1.1M332.7 118.0v1.1M332.7 119.8v1.1M332.7 121.9v1.1M332.7 124.3v1.1M332.7 127.0v1.1M332.7 130.2v1.1M332.7 134.1v1.1M332.7 138.8v1.1M332.7 144.5v1.1M332.7 156.2v1.1M332.7 162.2v1.1M332.7 168.4v1.1M332.7 174.6v1.1M332.7 181.0v1.1M332.7 187.5v1.1M335.0 43.5v1.1M335.0 111.6v1.1M335.0 112.8v1.1M335.0 114.1v1.1M335.0 115.5v1.1M335.0 117.0v1.1M335.0 118.7v1.1M335.0 120.5v1.1M335.0 122.6v1.1M335.0 124.9v1.1M335.0 127.7v1.1M335.0 130.9v1.1M335.0 134.7v1.1M335.0 139.5v1.1M335.0 145.2v1.1M335.0 151.0v1.1M335.0 156.9v1.1M335.0 162.9v1.1M335.0 169.0v1.1M335.0 175.3v1.1M335.0 188.2v1.1M335.0 194.8v1.1M337.3 112.3v1.1M337.3 113.5v1.1M337.3 114.8v1.1M337.3 116.2v1.1M337.3 117.7v1.1M337.3 119.3v1.1M337.3 121.2v1.1M337.3 123.3v1.1M337.3 125.6v1.1M337.3 128.4v1.1M337.3 131.6v1.1M337.3 135.4v1.1M337.3 140.2v1.1M337.3 145.9v1.1M337.3 151.7v1.1M337.3 157.6v1.1M337.3 169.7v1.1M337.3 182.3v1.1M337.3 195.5v1.1M339.5 38.1v1.1M339.5 39.3v1.1M339.5 113.0v1.1M339.5 114.2v1.1M339.5 115.5v1.1M339.5 116.9v1.1M339.5 118.4v1.1M339.5 120.1v1.1M339.5 121.9v1.1M339.5 124.0v1.1M339.5 126.3v1.1M339.5 129.1v1.1M339.5 132.3v1.1M339.5 136.2v1.1M339.5 140.9v1.1M339.5 146.6v1.1M339.5 152.4v1.1M339.5 158.3v1.1M339.5 164.3v1.1M339.5 176.7v1.1M339.5 189.6v1.1M341.8 47.3v1.1M341.8 47.3v1.1M341.8 113.4v1.1M341.8 114.6v1.1M341.8 115.9v1.1M341.8 117.3v1.1M341.8 118.8v1.1M341.8 120.5v1.1M341.8 122.3v1.1M341.8 124.4v1.1M341.8 126.7v1.1M341.8 129.5v1.1M341.8 132.7v1.1M341.8 136.6v1.1M341.8 141.3v1.1M341.8 147.0v1.1M341.8 152.8v1.1M341.8 158.7v1.1M341.8 164.7v1.1M341.8 183.5v1.1M344.1 48.1v1.1M344.1 113.7v1.1M344.1 114.9v1.1M344.1 116.2v1.1M344.1 117.6v1.1M344.1 119.1v1.1M344.1 120.8v1.1M344.1 122.6v1.1M344.1 124.7v1.1M344.1 127.0v1.1M344.1 129.8v1.1M344.1 133.0v1.1M344.1 136.9v1.1M344.1 141.6v1.1M344.1 147.3v1.1M344.1 153.1v1.1M344.1 165.0v1.1M344.1 171.1v1.1M344.1 183.8v1.1M344.1 190.3v1.1M346.4 46.4v1.1M346.4 114.0v1.1M346.4 115.2v1.1M346.4 116.5v1.1M346.4 117.9v1.1M346.4 119.4v1.1M346.4 121.1v1.1M346.4 122.9v1.1M346.4 125.0v1.1M346.4 127.3v1.1M346.4 130.1v1.1M346.4 133.3v1.1M346.4 137.2v1.1M346.4 141.9v1.1M346.4 147.6v1.1M346.4 153.4v1.1M346.4 159.3v1.1M346.4 165.3v1.1M346.4 171.4v1.1M346.4 177.7v1.1M346.4 197.2v1.1M348.7 114.3v1.1M348.7 115.5v1.1M348.7 116.8v1.1M348.7 118.1v1.1M348.7 119.7v1.1M348.7 121.3v1.1M348.7 123.1v1.1M348.7 125.2v1.1M348.7 127.6v1.1M348.7 130.3v1.1M348.7 133.5v1.1M348.7 137.4v1.1M348.7 142.2v1.1M348.7 147.9v1.1M348.7 159.5v1.1M348.7 171.7v1.1M348.7 184.3v1.1M351.0 114.5v1.1M351.0 115.7v1.1M351.0 117.0v1.1M351.0 118.3v1.1M351.0 119.9v1.1M351.0 121.5v1.1M351.0 123.3v1.1M351.0 125.4v1.1M351.0 130.5v1.1M351.0 137.6v1.1M351.0 142.4v1.1M351.0 148.1v1.1M351.0 153.8v1.1M351.0 159.7v1.1M351.0 178.1v1.1M351.0 191.0v1.1M353.3 114.6v1.1M353.3 115.8v1.1M353.3 117.1v1.1M353.3 120.0v1.1M353.3 121.7v1.1M353.3 123.5v1.1M353.3 125.6v1.1M353.3 130.7v1.1M353.3 133.9v1.1M353.3 137.8v1.1M353.3 142.5v1.1M353.3 148.2v1.1M353.3 154.0v1.1M353.3 165.9v1.1M353.3 191.2v1.1M355.6 49.2v1.1M355.6 49.5v1.1M355.6 50.3v1.1M355.6 114.7v1.1M355.6 115.9v1.1M355.6 117.2v1.1M355.6 118.6v1.1M355.6 120.1v1.1M355.6 121.8v1.1M355.6 123.6v1.1M355.6 125.7v1.1M355.6 128.0v1.1M355.6 130.8v1.1M355.6 134.0v1.1M355.6 137.9v1.1M355.6 142.6v1.1M355.6 148.3v1.1M355.6 154.1v1.1M355.6 160.0v1.1M355.6 172.1v1.1M355.6 178.4v1.1M357.9 48.6v1.1M357.9 114.8v1.1M357.9 116.0v1.1M357.9 117.3v1.1M357.9 118.6v1.1M357.9 120.1v1.1M357.9 121.8v1.1M357.9 123.6v1.1M357.9 125.7v1.1M357.9 128.1v1.1M357.9 130.8v1.1M357.9 134.0v1.1M357.9 137.9v1.1M357.9 142.7v1.1M357.9 148.4v1.1M357.9 154.1v1.1M357.9 160.0v1.1M357.9 172.2v1.1M357.9 178.4v1.1M357.9 197.9v1.1M357.9 225.8v1.1M360.2 52.0v1.1M360.2 114.8v1.1M360.2 116.0v1.1M360.2 117.3v1.1M360.2 118.6v1.1M360.2 120.1v1.1M360.2 121.8v1.1M360.2 123.6v1.1M360.2 125.7v1.1M360.2 128.1v1.1M360.2 130.8v1.1M360.2 134.0v1.1M360.2 137.9v1.1M360.2 142.7v1.1M360.2 148.4v1.1M360.2 154.1v1.1M360.2 160.0v1.1M360.2 166.0v1.1M360.2 172.2v1.1M360.2 178.4v1.1M362.6 114.7v1.1M362.6 115.9v1.1M362.6 117.2v1.1M362.6 118.6v1.1M362.6 120.1v1.1M362.6 121.8v1.1M362.6 123.6v1.1M362.6 125.7v1.1M362.6 128.0v1.1M362.6 130.8v1.1M362.6 134.0v1.1M362.6 137.9v1.1M362.6 142.6v1.1M362.6 148.3v1.1M362.6 154.1v1.1M362.6 166.0v1.1M362.6 178.4v1.1M364.9 49.3v1.1M364.9 114.7v1.1M364.9 115.9v1.1M364.9 117.2v1.1M364.9 118.5v1.1M364.9 120.1v1.1M364.9 121.7v1.1M364.9 123.6v1.1M364.9 125.6v1.1M364.9 128.0v1.1M364.9 130.7v1.1M364.9 133.9v1.1M364.9 137.8v1.1M364.9 142.6v1.1M364.9 148.3v1.1M364.9 154.1v1.1M364.9 172.1v1.1M364.9 178.3v1.1M364.9 197.8v1.1M364.9 204.6v1.1M364.9 218.6v1.1M367.2 55.1v1.1M367.2 114.6v1.1M367.2 115.8v1.1M367.2 117.1v1.1M367.2 118.5v1.1M367.2 121.6v1.1M367.2 125.6v1.1M367.2 127.9v1.1M367.2 130.6v1.1M367.2 133.9v1.1M367.2 137.7v1.1M367.2 142.5v1.1M367.2 148.2v1.1M367.2 154.0v1.1M367.2 159.9v1.1M367.2 165.9v1.1M367.2 178.3v1.1M367.2 184.6v1.1M367.2 197.8v1.1M367.2 211.4v1.1M369.5 47.1v1.1M369.5 114.5v1.1M369.5 115.7v1.1M369.5 117.0v1.1M369.5 118.4v1.1M369.5 119.9v1.1M369.5 121.6v1.1M369.5 123.4v1.1M369.5 125.5v1.1M369.5 127.9v1.1M369.5 130.6v1.1M369.5 133.8v1.1M369.5 137.7v1.1M369.5 142.4v1.1M369.5 148.1v1.1M369.5 153.9v1.1M369.5 159.8v1.1M369.5 165.8v1.1M369.5 172.0v1.1M369.5 178.2v1.1M369.5 184.6v1.1M371.8 46.2v1.1M371.8 114.5v1.1M371.8 115.7v1.1M371.8 117.0v1.1M371.8 118.4v1.1M371.8 119.9v1.1M371.8 121.5v1.1M371.8 123.4v1.1M371.8 125.5v1.1M371.8 127.8v1.1M371.8 130.5v1.1M371.8 133.8v1.1M371.8 137.6v1.1M371.8 142.4v1.1M371.8 148.1v1.1M371.8 153.9v1.1M371.8 184.5v1.1M371.8 197.7v1.1M374.2 115.7v1.1M374.2 117.0v1.1M374.2 118.4v1.1M374.2 119.9v1.1M374.2 121.5v1.1M374.2 123.4v1.1M374.2 125.5v1.1M374.2 127.8v1.1M374.2 130.5v1.1M374.2 133.8v1.1M374.2 137.6v1.1M374.2 142.4v1.1M374.2 153.9v1.1M374.2 178.2v1.1M376.5 114.5v1.1M376.5 115.8v1.1M376.5 118.4v1.1M376.5 119.9v1.1M376.5 121.6v1.1M376.5 123.4v1.1M376.5 125.5v1.1M376.5 127.9v1.1M376.5 130.6v1.1M376.5 133.8v1.1M376.5 137.7v1.1M376.5 142.5v1.1M376.5 148.2v1.1M376.5 153.9v1.1M376.5 159.8v1.1M376.5 165.8v1.1M376.5 178.2v1.1M376.5 184.6v1.1M378.8 53.8v1.1M378.8 114.6v1.1M378.8 115.9v1.1M378.8 117.1v1.1M378.8 118.5v1.1M378.8 120.0v1.1M378.8 121.7v1.1M378.8 123.5v1.1M378.8 125.6v1.1M378.8 128.0v1.1M378.8 130.7v1.1M378.8 133.9v1.1M378.8 137.8v1.1M378.8 142.6v1.1M378.8 148.3v1.1M378.8 154.0v1.1M378.8 159.9v1.1M378.8 165.9v1.1M378.8 172.1v1.1M378.8 178.3v1.1M378.8 184.7v1.1M378.8 204.6v1.1M381.2 53.9v1.1M381.2 114.8v1.1M381.2 116.0v1.1M381.2 117.3v1.1M381.2 118.7v1.1M381.2 120.2v1.1M381.2 121.9v1.1M381.2 125.8v1.1M381.2 128.1v1.1M381.2 130.9v1.1M381.2 134.1v1.1M381.2 138.0v1.1M381.2 142.7v1.1M381.2 148.4v1.1M381.2 154.2v1.1M381.2 160.1v1.1M381.2 166.1v1.1M381.2 172.2v1.1M381.2 178.5v1.1M381.2 184.9v1.1M381.2 204.8v1.1M383.5 115.1v1.1M383.5 116.3v1.1M383.5 117.6v1.1M383.5 120.5v1.1M383.5 122.1v1.1M383.5 124.0v1.1M383.5 126.0v1.1M383.5 128.4v1.1M383.5 134.3v1.1M383.5 138.2v1.1M383.5 143.0v1.1M383.5 148.7v1.1M383.5 154.5v1.1M383.5 166.4v1.1M383.5 172.5v1.1M383.5 198.2v1.1M385.9 115.4v1.1M385.9 116.6v1.1M385.9 117.9v1.1M385.9 119.3v1.1M385.9 120.8v1.1M385.9 122.4v1.1M385.9 124.3v1.1M385.9 126.3v1.1M385.9 128.7v1.1M385.9 131.4v1.1M385.9 134.6v1.1M385.9 138.5v1.1M385.9 143.3v1.1M385.9 149.0v1.1M385.9 154.8v1.1M385.9 160.7v1.1M385.9 166.7v1.1M385.9 191.9v1.1M385.9 198.6v1.1M388.2 115.7v1.1M388.2 117.0v1.1M388.2 118.2v1.1M388.2 119.6v1.1M388.2 121.1v1.1M388.2 122.8v1.1M388.2 124.6v1.1M388.2 126.7v1.1M388.2 129.1v1.1M388.2 131.8v1.1M388.2 135.0v1.1M388.2 138.9v1.1M388.2 143.7v1.1M388.2 149.4v1.1M388.2 155.1v1.1M388.2 161.0v1.1M388.2 167.0v1.1M388.2 192.3v1.1M390.6 116.2v1.1M390.6 117.4v1.1M390.6 118.7v1.1M390.6 120.1v1.1M390.6 121.6v1.1M390.6 123.2v1.1M390.6 125.1v1.1M390.6 129.5v1.1M390.6 132.2v1.1M390.6 135.4v1.1M390.6 139.3v1.1M390.6 144.1v1.1M390.6 149.8v1.1M390.6 155.6v1.1M390.6 161.5v1.1M390.6 167.5v1.1M390.6 173.6v1.1M390.6 179.8v1.1M390.6 192.7v1.1M390.6 242.0v1.1M392.9 52.7v1.1M392.9 117.9v1.1M392.9 119.1v1.1M392.9 120.5v1.1M392.9 122.0v1.1M392.9 123.7v1.1M392.9 125.5v1.1M392.9 127.6v1.1M392.9 130.0v1.1M392.9 132.7v1.1M392.9 135.9v1.1M392.9 139.8v1.1M392.9 144.6v1.1M392.9 150.3v1.1M392.9 156.0v1.1M392.9 161.9v1.1M392.9 167.9v1.1M392.9 180.3v1.1M392.9 186.7v1.1M392.9 199.8v1.1M395.3 59.6v1.1M395.3 117.1v1.1M395.3 118.4v1.1M395.3 119.6v1.1M395.3 121.0v1.1M395.3 122.5v1.1M395.3 124.2v1.1M395.3 126.0v1.1M395.3 128.1v1.1M395.3 130.5v1.1M395.3 133.2v1.1M395.3 136.4v1.1M395.3 140.3v1.1M395.3 145.1v1.1M395.3 150.8v1.1M395.3 156.5v1.1M395.3 162.4v1.1M395.3 174.6v1.1M395.3 180.8v1.1M395.3 193.7v1.1M395.3 200.3v1.1M397.6 57.6v1.1M397.6 117.6v1.1M397.6 118.9v1.1M397.6 120.1v1.1M397.6 121.5v1.1M397.6 123.0v1.1M397.6 124.7v1.1M397.6 128.6v1.1M397.6 131.0v1.1M397.6 133.7v1.1M397.6 136.9v1.1M397.6 140.8v1.1M397.6 145.6v1.1M397.6 151.3v1.1M397.6 157.0v1.1M397.6 162.9v1.1M397.6 168.9v1.1M397.6 175.1v1.1M397.6 181.3v1.1M397.6 200.8v1.1M400.0 62.2v1.1M400.0 118.1v1.1M400.0 119.4v1.1M400.0 120.6v1.1M400.0 123.5v1.1M400.0 125.2v1.1M400.0 127.0v1.1M400.0 129.1v1.1M400.0 131.5v1.1M400.0 134.2v1.1M400.0 137.4v1.1M400.0 141.3v1.1M400.0 146.1v1.1M400.0 151.8v1.1M400.0 157.5v1.1M400.0 163.4v1.1M400.0 181.8v1.1M400.0 188.2v1.1M400.0 201.3v1.1M400.0 215.0v1.1M402.3 118.8v1.1M402.3 120.0v1.1M402.3 121.3v1.1M402.3 122.7v1.1M402.3 124.2v1.1M402.3 125.9v1.1M402.3 127.7v1.1M402.3 129.8v1.1M402.3 132.1v1.1M402.3 134.9v1.1M402.3 138.1v1.1M402.3 142.0v1.1M402.3 146.7v1.1M402.3 152.4v1.1M402.3 158.2v1.1M402.3 164.1v1.1M402.3 170.1v1.1M402.3 182.5v1.1M402.3 188.9v1.1M402.3 202.0v1.1M404.7 119.5v1.1M404.7 120.7v1.1M404.7 122.0v1.1M404.7 123.3v1.1M404.7 124.9v1.1M404.7 126.5v1.1M404.7 128.3v1.1M404.7 130.4v1.1M404.7 132.8v1.1M404.7 135.5v1.1M404.7 138.7v1.1M404.7 142.6v1.1M404.7 147.4v1.1M404.7 153.1v1.1M404.7 158.8v1.1M404.7 164.7v1.1M404.7 170.7v1.1M404.7 196.0v1.1M404.7 209.4v1.1M407.1 120.0v1.1M407.1 121.3v1.1M407.1 122.5v1.1M407.1 123.9v1.1M407.1 125.4v1.1M407.1 127.1v1.1M407.1 128.9v1.1M407.1 131.0v1.1M407.1 133.4v1.1M407.1 136.1v1.1M407.1 143.2v1.1M407.1 148.0v1.1M407.1 153.7v1.1M407.1 159.4v1.1M407.1 183.7v1.1M407.1 203.2v1.1M409.4 120.6v1.1M409.4 121.8v1.1M409.4 123.1v1.1M409.4 124.5v1.1M409.4 126.0v1.1M409.4 127.6v1.1M409.4 129.5v1.1M409.4 131.5v1.1M409.4 133.9v1.1M409.4 136.6v1.1M409.4 139.9v1.1M409.4 143.7v1.1M409.4 148.5v1.1M409.4 154.2v1.1M409.4 160.0v1.1M409.4 165.9v1.1M409.4 178.0v1.1M409.4 184.2v1.1M409.4 190.6v1.1M411.8 62.1v1.1M411.8 121.1v1.1M411.8 122.3v1.1M411.8 123.6v1.1M411.8 124.9v1.1M411.8 126.4v1.1M411.8 128.1v1.1M411.8 129.9v1.1M411.8 132.0v1.1M411.8 134.4v1.1M411.8 137.1v1.1M411.8 140.3v1.1M411.8 144.2v1.1M411.8 149.0v1.1M411.8 154.7v1.1M411.8 160.4v1.1M411.8 166.3v1.1M411.8 172.3v1.1M411.8 204.2v1.1M414.2 121.5v1.1M414.2 122.7v1.1M414.2 124.0v1.1M414.2 125.3v1.1M414.2 126.9v1.1M414.2 128.5v1.1M414.2 130.3v1.1M414.2 132.4v1.1M414.2 134.8v1.1M414.2 137.5v1.1M414.2 140.7v1.1M414.2 144.6v1.1M414.2 149.4v1.1M414.2 155.1v1.1M414.2 160.8v1.1M414.2 166.7v1.1M414.2 172.7v1.1M414.2 185.1v1.1M414.2 191.5v1.1M414.2 198.0v1.1M414.2 204.6v1.1M414.2 232.5v1.1M414.2 239.9v1.1M416.6 61.8v1.1M416.6 121.8v1.1M416.6 123.0v1.1M416.6 124.3v1.1M416.6 125.7v1.1M416.6 127.2v1.1M416.6 128.9v1.1M416.6 130.7v1.1M416.6 132.8v1.1M416.6 135.1v1.1M416.6 137.9v1.1M416.6 141.1v1.1M416.6 145.0v1.1M416.6 149.7v1.1M416.6 155.4v1.1M416.6 161.2v1.1M416.6 167.1v1.1M416.6 173.1v1.1M416.6 179.2v1.1M416.6 185.5v1.1M416.6 191.9v1.1M416.6 240.2v1.1M419.0 122.1v1.1M419.0 123.3v1.1M419.0 124.6v1.1M419.0 126.0v1.1M419.0 127.5v1.1M419.0 129.2v1.1M419.0 131.0v1.1M419.0 133.1v1.1M419.0 135.4v1.1M419.0 138.2v1.1M419.0 141.4v1.1M419.0 145.3v1.1M419.0 150.0v1.1M419.0 155.7v1.1M419.0 161.5v1.1M419.0 167.4v1.1M419.0 173.4v1.1M419.0 179.5v1.1M419.0 212.1v1.1M421.4 122.4v1.1M421.4 123.6v1.1M421.4 124.9v1.1M421.4 126.3v1.1M421.4 127.8v1.1M421.4 129.4v1.1M421.4 131.3v1.1M421.4 133.3v1.1M421.4 135.7v1.1M421.4 138.4v1.1M421.4 141.7v1.1M421.4 145.5v1.1M421.4 150.3v1.1M421.4 156.0v1.1M421.4 161.8v1.1M421.4 167.7v1.1M421.4 179.8v1.1M421.4 198.9v1.1M421.4 212.3v1.1M423.7 62.1v1.1M423.7 122.6v1.1M423.7 123.8v1.1M423.7 125.1v1.1M423.7 126.5v1.1M423.7 128.0v1.1M423.7 129.7v1.1M423.7 131.5v1.1M423.7 133.6v1.1M423.7 135.9v1.1M423.7 138.7v1.1M423.7 141.9v1.1M423.7 145.8v1.1M423.7 150.5v1.1M423.7 156.2v1.1M423.7 162.0v1.1M423.7 167.9v1.1M423.7 173.9v1.1M423.7 180.0v1.1M423.7 186.3v1.1M423.7 199.2v1.1M423.7 212.6v1.1M426.1 59.8v1.1M426.1 122.9v1.1M426.1 124.1v1.1M426.1 125.4v1.1M426.1 126.8v1.1M426.1 128.3v1.1M426.1 129.9v1.1M426.1 131.8v1.1M426.1 133.8v1.1M426.1 136.2v1.1M426.1 138.9v1.1M426.1 142.1v1.1M426.1 146.0v1.1M426.1 150.8v1.1M426.1 156.5v1.1M426.1 162.3v1.1M426.1 168.1v1.1M426.1 174.2v1.1M426.1 186.5v1.1M426.1 192.9v1.1M426.1 199.4v1.1M428.5 63.9v1.1M428.5 64.3v1.1M428.5 123.1v1.1M428.5 124.3v1.1M428.5 125.6v1.1M428.5 127.0v1.1M428.5 128.5v1.1M428.5 130.2v1.1M428.5 132.0v1.1M428.5 134.1v1.1M428.5 136.4v1.1M428.5 139.2v1.1M428.5 146.3v1.1M428.5 151.0v1.1M428.5 156.7v1.1M428.5 162.5v1.1M428.5 168.4v1.1M428.5 186.8v1.1M430.9 123.5v1.1M430.9 124.7v1.1M430.9 126.0v1.1M430.9 127.4v1.1M430.9 128.9v1.1M430.9 130.6v1.1M430.9 132.4v1.1M430.9 134.5v1.1M430.9 136.8v1.1M430.9 139.6v1.1M430.9 142.8v1.1M430.9 146.7v1.1M430.9 151.4v1.1M430.9 157.1v1.1M430.9 162.9v1.1M430.9 168.8v1.1M430.9 174.8v1.1M430.9 180.9v1.1M430.9 227.4v1.1M433.3 124.1v1.1M433.3 125.3v1.1M433.3 126.6v1.1M433.3 128.0v1.1M433.3 129.5v1.1M433.3 131.2v1.1M433.3 135.1v1.1M433.3 137.4v1.1M433.3 140.2v1.1M433.3 143.4v1.1M433.3 147.3v1.1M433.3 152.0v1.1M433.3 157.7v1.1M433.3 163.5v1.1M433.3 169.4v1.1M433.3 175.4v1.1M433.3 181.5v1.1M433.3 187.8v1.1M433.3 194.2v1.1M433.3 214.1v1.1M435.7 71.4v1.1M435.7 72.5v1.1M435.7 124.8v1.1M435.7 126.0v1.1M435.7 127.3v1.1M435.7 128.7v1.1M435.7 130.2v1.1M435.7 131.9v1.1M435.7 133.7v1.1M435.7 135.8v1.1M435.7 138.1v1.1M435.7 140.9v1.1M435.7 144.1v1.1M435.7 147.9v1.1M435.7 152.7v1.1M435.7 158.4v1.1M435.7 164.2v1.1M435.7 170.1v1.1M435.7 176.1v1.1M435.7 182.2v1.1M435.7 194.8v1.1M435.7 201.3v1.1M435.7 221.7v1.1M438.1 125.5v1.1M438.1 126.7v1.1M438.1 128.0v1.1M438.1 129.4v1.1M438.1 130.9v1.1M438.1 132.6v1.1M438.1 134.4v1.1M438.1 136.5v1.1M438.1 141.6v1.1M438.1 144.8v1.1M438.1 148.7v1.1M438.1 153.4v1.1M438.1 159.1v1.1M438.1 164.9v1.1M438.1 170.8v1.1M438.1 176.8v1.1M438.1 182.9v1.1M438.1 195.6v1.1M438.1 215.5v1.1M440.5 66.5v1.1M440.5 66.9v1.1M440.5 127.5v1.1M440.5 128.8v1.1M440.5 130.2v1.1M440.5 131.7v1.1M440.5 133.4v1.1M440.5 135.2v1.1M440.5 137.3v1.1M440.5 139.6v1.1M440.5 142.4v1.1M440.5 145.6v1.1M440.5 149.5v1.1M440.5 154.2v1.1M440.5 159.9v1.1M440.5 165.7v1.1M440.5 171.6v1.1M440.5 177.6v1.1M440.5 190.0v1.1M440.5 216.3v1.1M440.5 244.7v1.1M443.0 127.1v1.1M443.0 128.4v1.1M443.0 129.6v1.1M443.0 131.0v1.1M443.0 132.5v1.1M443.0 134.2v1.1M443.0 136.0v1.1M443.0 138.1v1.1M443.0 140.5v1.1M443.0 143.2v1.1M443.0 146.4v1.1M443.0 150.3v1.1M443.0 155.1v1.1M443.0 160.8v1.1M443.0 166.5v1.1M443.0 172.4v1.1M443.0 178.4v1.1M443.0 184.6v1.1M443.0 190.8v1.1M443.0 197.2v1.1M443.0 203.7v1.1M443.0 210.3v1.1M445.4 128.0v1.1M445.4 129.2v1.1M445.4 130.5v1.1M445.4 131.9v1.1M445.4 133.4v1.1M445.4 135.1v1.1M445.4 136.9v1.1M445.4 139.0v1.1M445.4 141.3v1.1M445.4 144.1v1.1M445.4 147.3v1.1M445.4 151.2v1.1M445.4 155.9v1.1M445.4 167.4v1.1M445.4 173.3v1.1M445.4 198.1v1.1M447.8 128.9v1.1M447.8 130.2v1.1M447.8 131.4v1.1M447.8 132.8v1.1M447.8 134.3v1.1M447.8 136.0v1.1M447.8 137.8v1.1M447.8 139.9v1.1M447.8 142.3v1.1M447.8 145.0v1.1M447.8 148.2v1.1M447.8 152.1v1.1M447.8 156.9v1.1M447.8 162.6v1.1M447.8 168.3v1.1M447.8 174.2v1.1M447.8 180.2v1.1M447.8 186.4v1.1M447.8 192.6v1.1M450.2 129.9v1.1M450.2 131.1v1.1M450.2 132.4v1.1M450.2 133.8v1.1M450.2 135.3v1.1M450.2 136.9v1.1M450.2 138.8v1.1M450.2 140.8v1.1M450.2 143.2v1.1M450.2 145.9v1.1M450.2 149.2v1.1M450.2 153.0v1.1M450.2 157.8v1.1M450.2 163.5v1.1M450.2 169.3v1.1M450.2 175.2v1.1M450.2 181.2v1.1M450.2 199.9v1.1M452.6 77.4v1.1M452.6 130.8v1.1M452.6 132.0v1.1M452.6 134.7v1.1M452.6 136.2v1.1M452.6 137.9v1.1M452.6 139.7v1.1M452.6 141.8v1.1M452.6 144.2v1.1M452.6 146.9v1.1M452.6 150.1v1.1M452.6 158.7v1.1M452.6 164.4v1.1M452.6 170.2v1.1M452.6 176.1v1.1M452.6 182.1v1.1M452.6 188.3v1.1M452.6 194.5v1.1M452.6 207.4v1.1M452.6 214.0v1.1M452.6 234.7v1.1M455.1 131.8v1.1M455.1 133.0v1.1M455.1 134.3v1.1M455.1 135.7v1.1M455.1 137.2v1.1M455.1 138.8v1.1M455.1 140.7v1.1M455.1 142.7v1.1M455.1 145.1v1.1M455.1 147.8v1.1M455.1 151.0v1.1M455.1 154.9v1.1M455.1 159.7v1.1M455.1 165.4v1.1M455.1 171.2v1.1M455.1 177.1v1.1M455.1 183.1v1.1M455.1 195.4v1.1M455.1 201.8v1.1M455.1 215.0v1.1M455.1 221.7v1.1M457.5 69.9v1.1M457.5 71.2v1.1M457.5 132.7v1.1M457.5 135.2v1.1M457.5 136.6v1.1M457.5 138.1v1.1M457.5 139.7v1.1M457.5 141.6v1.1M457.5 143.6v1.1M457.5 146.0v1.1M457.5 148.7v1.1M457.5 152.0v1.1M457.5 160.6v1.1M457.5 166.3v1.1M457.5 172.1v1.1M457.5 178.0v1.1M457.5 184.0v1.1M457.5 190.1v1.1M457.5 196.4v1.1M459.9 133.6v1.1M459.9 134.8v1.1M459.9 137.4v1.1M459.9 138.9v1.1M459.9 140.6v1.1M459.9 142.4v1.1M459.9 144.5v1.1M459.9 146.9v1.1M459.9 149.6v1.1M459.9 152.8v1.1M459.9 156.7v1.1M459.9 161.5v1.1M459.9 167.2v1.1M459.9 172.9v1.1M459.9 178.8v1.1M459.9 191.0v1.1M459.9 197.2v1.1M459.9 203.6v1.1M459.9 210.1v1.1M462.4 134.6v1.1M462.4 135.8v1.1M462.4 137.1v1.1M462.4 138.5v1.1M462.4 140.0v1.1M462.4 141.6v1.1M462.4 143.5v1.1M462.4 145.6v1.1M462.4 147.9v1.1M462.4 150.6v1.1M462.4 153.9v1.1M462.4 157.7v1.1M462.4 162.5v1.1M462.4 168.2v1.1M462.4 174.0v1.1M462.4 179.9v1.1M462.4 185.9v1.1M462.4 192.0v1.1M462.4 204.6v1.1M462.4 217.8v1.1M464.8 76.2v1.1M464.8 136.8v1.1M464.8 138.1v1.1M464.8 139.5v1.1M464.8 141.0v1.1M464.8 142.6v1.1M464.8 144.5v1.1M464.8 146.5v1.1M464.8 148.9v1.1M464.8 151.6v1.1M464.8 154.9v1.1M464.8 158.7v1.1M464.8 163.5v1.1M464.8 169.2v1.1M464.8 175.0v1.1M464.8 180.9v1.1M464.8 186.9v1.1M464.8 193.0v1.1M464.8 218.8v1.1M464.8 225.5v1.1M467.2 136.5v1.1M467.2 137.7v1.1M467.2 139.0v1.1M467.2 140.4v1.1M467.2 141.9v1.1M467.2 143.6v1.1M467.2 145.4v1.1M467.2 147.5v1.1M467.2 149.8v1.1M467.2 152.6v1.1M467.2 155.8v1.1M467.2 159.7v1.1M467.2 164.4v1.1M467.2 170.1v1.1M467.2 175.9v1.1M467.2 181.8v1.1M467.2 187.8v1.1M467.2 193.9v1.1M467.2 200.2v1.1M467.2 206.6v1.1M467.2 226.5v1.1M469.7 76.3v1.1M469.7 137.4v1.1M469.7 138.6v1.1M469.7 139.9v1.1M469.7 141.2v1.1M469.7 142.7v1.1M469.7 144.4v1.1M469.7 146.2v1.1M469.7 148.3v1.1M469.7 150.7v1.1M469.7 153.4v1.1M469.7 156.6v1.1M469.7 160.5v1.1M469.7 165.3v1.1M469.7 171.0v1.1M469.7 176.7v1.1M469.7 182.6v1.1M469.7 188.6v1.1M469.7 194.8v1.1M469.7 201.0v1.1M472.1 138.1v1.1M472.1 139.3v1.1M472.1 140.6v1.1M472.1 142.0v1.1M472.1 143.5v1.1M472.1 145.2v1.1M472.1 147.0v1.1M472.1 149.1v1.1M472.1 151.5v1.1M472.1 154.2v1.1M472.1 157.4v1.1M472.1 161.3v1.1M472.1 166.1v1.1M472.1 171.8v1.1M472.1 177.5v1.1M472.1 183.4v1.1M472.1 189.4v1.1M472.1 195.6v1.1M472.1 201.8v1.1M472.1 214.7v1.1M472.1 221.3v1.1M474.6 77.1v1.1M474.6 138.9v1.1M474.6 140.1v1.1M474.6 142.7v1.1M474.6 144.3v1.1M474.6 145.9v1.1M474.6 147.8v1.1M474.6 149.8v1.1M474.6 152.2v1.1M474.6 154.9v1.1M474.6 162.0v1.1M474.6 166.8v1.1M474.6 172.5v1.1M474.6 178.3v1.1M474.6 190.1v1.1M474.6 202.5v1.1M474.6 208.9v1.1M477.0 77.7v1.1M477.0 139.5v1.1M477.0 140.8v1.1M477.0 142.0v1.1M477.0 143.4v1.1M477.0 144.9v1.1M477.0 146.6v1.1M477.0 148.4v1.1M477.0 150.5v1.1M477.0 152.9v1.1M477.0 155.6v1.1M477.0 158.8v1.1M477.0 162.7v1.1M477.0 167.5v1.1M477.0 178.9v1.1M477.0 184.8v1.1M477.0 190.8v1.1M477.0 197.0v1.1M477.0 203.2v1.1M477.0 229.5v1.1M479.5 140.2v1.1M479.5 141.4v1.1M479.5 142.7v1.1M479.5 144.1v1.1M479.5 145.6v1.1M479.5 147.2v1.1M479.5 151.2v1.1M479.5 153.5v1.1M479.5 156.2v1.1M479.5 159.5v1.1M479.5 163.3v1.1M479.5 168.1v1.1M479.5 173.8v1.1M479.5 179.6v1.1M479.5 185.5v1.1M479.5 191.5v1.1M479.5 203.9v1.1M479.5 210.2v1.1M479.5 223.4v1.1M479.5 230.1v1.1M482.0 141.0v1.1M482.0 142.2v1.1M482.0 143.5v1.1M482.0 144.9v1.1M482.0 146.4v1.1M482.0 148.1v1.1M482.0 149.9v1.1M482.0 152.0v1.1M482.0 154.4v1.1M482.0 157.1v1.1M482.0 160.3v1.1M482.0 164.2v1.1M482.0 168.9v1.1M482.0 174.6v1.1M482.0 180.4v1.1M482.0 186.3v1.1M482.0 192.3v1.1M482.0 198.5v1.1M482.0 204.7v1.1M482.0 211.1v1.1M482.0 231.0v1.1M482.0 244.9v1.1M482.0 252.1v1.1M484.4 141.9v1.1M484.4 143.1v1.1M484.4 144.4v1.1M484.4 145.8v1.1M484.4 147.3v1.1M484.4 149.0v1.1M484.4 150.8v1.1M484.4 152.9v1.1M484.4 155.3v1.1M484.4 158.0v1.1M484.4 161.2v1.1M484.4 165.1v1.1M484.4 169.8v1.1M484.4 175.5v1.1M484.4 181.3v1.1M484.4 187.2v1.1M484.4 193.2v1.1M484.4 199.4v1.1M484.4 225.1v1.1M484.4 231.9v1.1M484.4 245.8v1.1M486.9 142.9v1.1M486.9 144.1v1.1M486.9 145.4v1.1M486.9 146.7v1.1M486.9 148.3v1.1M486.9 149.9v1.1M486.9 151.8v1.1M486.9 153.8v1.1M486.9 156.2v1.1M486.9 158.9v1.1M486.9 162.1v1.1M486.9 166.0v1.1M486.9 170.8v1.1M486.9 176.5v1.1M486.9 182.3v1.1M486.9 188.1v1.1M486.9 194.2v1.1M486.9 200.3v1.1M486.9 206.5v1.1M486.9 212.9v1.1M486.9 219.4v1.1M486.9 232.8v1.1M489.4 84.0v1.1M489.4 143.8v1.1M489.4 145.0v1.1M489.4 146.3v1.1M489.4 147.7v1.1M489.4 149.2v1.1M489.4 150.9v1.1M489.4 152.7v1.1M489.4 154.8v1.1M489.4 159.9v1.1M489.4 163.1v1.1M489.4 167.0v1.1M489.4 171.8v1.1M489.4 177.5v1.1M489.4 183.2v1.1M489.4 189.1v1.1M489.4 195.1v1.1M489.4 201.3v1.1M489.4 213.9v1.1M489.4 220.4v1.1M489.4 227.0v1.1M491.8 87.8v1.1M491.8 144.9v1.1M491.8 146.1v1.1M491.8 147.4v1.1M491.8 148.8v1.1M491.8 150.3v1.1M491.8 151.9v1.1M491.8 153.8v1.1M491.8 155.8v1.1M491.8 158.2v1.1M491.8 160.9v1.1M491.8 164.1v1.1M491.8 168.0v1.1M491.8 172.8v1.1M491.8 178.5v1.1M491.8 184.3v1.1M491.8 190.2v1.1M491.8 208.5v1.1M491.8 214.9v1.1M491.8 228.1v1.1M491.8 234.8v1.1M494.3 146.0v1.1M494.3 147.2v1.1M494.3 148.5v1.1M494.3 149.9v1.1M494.3 151.4v1.1M494.3 153.0v1.1M494.3 154.9v1.1M494.3 156.9v1.1M494.3 159.3v1.1M494.3 162.0v1.1M494.3 165.2v1.1M494.3 169.1v1.1M494.3 173.9v1.1M494.3 179.6v1.1M494.3 185.4v1.1M494.3 191.3v1.1M494.3 197.3v1.1M494.3 203.4v1.1M494.3 209.6v1.1M494.3 216.0v1.1M494.3 222.5v1.1M496.8 90.3v1.1M496.8 91.1v1.1M496.8 93.2v1.1M496.8 147.2v1.1M496.8 148.4v1.1M496.8 149.7v1.1M496.8 151.0v1.1M496.8 152.5v1.1M496.8 154.2v1.1M496.8 156.0v1.1M496.8 158.1v1.1M496.8 160.5v1.1M496.8 163.2v1.1M496.8 166.4v1.1M496.8 170.3v1.1M496.8 175.1v1.1M496.8 180.8v1.1M496.8 186.5v1.1M496.8 198.4v1.1M496.8 204.6v1.1M496.8 210.8v1.1M496.8 217.2v1.1M499.3 89.2v1.1M499.3 148.4v1.1M499.3 149.6v1.1M499.3 150.9v1.1M499.3 152.3v1.1M499.3 153.8v1.1M499.3 155.5v1.1M499.3 157.3v1.1M499.3 159.4v1.1M499.3 161.7v1.1M499.3 164.5v1.1M499.3 167.7v1.1M499.3 171.6v1.1M499.3 176.3v1.1M499.3 182.0v1.1M499.3 187.8v1.1M499.3 193.7v1.1M499.3 199.7v1.1M499.3 205.8v1.1M499.3 212.1v1.1M499.3 218.4v1.1M499.3 225.0v1.1M501.8 149.4v1.1M501.8 150.7v1.1M501.8 152.2v1.1M501.8 153.8v1.1M501.8 155.6v1.1M501.8 157.5v1.1M501.8 159.6v1.1M501.8 161.9v1.1M501.8 164.4v1.1M501.8 167.1v1.1M501.8 170.1v1.1M501.8 173.3v1.1M501.8 176.8v1.1M501.8 180.7v1.1M501.8 184.9v1.1M501.8 189.4v1.1M501.8 194.4v1.1M501.8 199.8v1.1M501.8 205.7v1.1M501.8 212.1v1.1M501.8 225.4v1.1M501.8 232.3v1.1M504.3 150.3v1.1M504.3 151.6v1.1M504.3 153.1v1.1M504.3 154.7v1.1M504.3 156.5v1.1M504.3 158.4v1.1M504.3 160.5v1.1M504.3 162.8v1.1M504.3 165.3v1.1M504.3 168.0v1.1M504.3 171.0v1.1M504.3 174.2v1.1M504.3 177.7v1.1M504.3 181.6v1.1M504.3 185.7v1.1M504.3 190.3v1.1M504.3 195.3v1.1M504.3 200.7v1.1M504.3 206.6v1.1M504.3 213.0v1.1M504.3 219.6v1.1M506.7 151.2v1.1M506.7 152.5v1.1M506.7 154.0v1.1M506.7 155.6v1.1M506.7 157.4v1.1M506.7 159.3v1.1M506.7 161.4v1.1M506.7 163.7v1.1M506.7 166.2v1.1M506.7 168.9v1.1M506.7 171.9v1.1M506.7 175.1v1.1M506.7 178.6v1.1M506.7 182.5v1.1M506.7 186.9v1.1M506.7 192.1v1.1M506.7 197.8v1.1M506.7 203.8v1.1M506.7 209.7v1.1M506.7 222.7v1.1M506.7 229.5v1.1M506.7 236.3v1.1M506.7 254.5v1.1M506.7 265.2v1.1M506.7 274.3v1.1M509.2 152.1v1.1M509.2 153.5v1.1M509.2 155.0v1.1M509.2 156.6v1.1M509.2 158.4v1.1M509.2 160.3v1.1M509.2 162.4v1.1M509.2 164.7v1.1M509.2 167.2v1.1M509.2 169.9v1.1M509.2 172.8v1.1M509.2 176.1v1.1M509.2 179.6v1.1M509.2 183.4v1.1M509.2 188.0v1.1M509.2 198.9v1.1M509.2 204.7v1.1M509.2 210.6v1.1M509.2 223.7v1.1M511.7 92.9v1.1M511.7 153.7v1.1M511.7 155.0v1.1M511.7 158.1v1.1M511.7 159.9v1.1M511.7 161.8v1.1M511.7 163.9v1.1M511.7 166.2v1.1M511.7 168.7v1.1M511.7 171.4v1.1M511.7 177.6v1.1M511.7 181.1v1.1M511.7 185.0v1.1M511.7 189.8v1.1M511.7 195.0v1.1M511.7 200.7v1.1M511.7 206.3v1.1M511.7 212.2v1.1M511.7 218.6v1.1M511.7 253.0v1.1M514.2 94.1v1.1M514.2 154.4v1.1M514.2 155.8v1.1M514.2 157.3v1.1M514.2 158.9v1.1M514.2 160.7v1.1M514.2 162.6v1.1M514.2 164.7v1.1M514.2 167.0v1.1M514.2 169.5v1.1M514.2 172.2v1.1M514.2 175.1v1.1M514.2 178.4v1.1M514.2 181.9v1.1M514.2 185.8v1.1M514.2 190.6v1.1M514.2 195.8v1.1M514.2 201.5v1.1M514.2 207.0v1.1M514.2 212.9v1.1M516.7 97.4v1.1M516.7 155.2v1.1M516.7 156.5v1.1M516.7 158.0v1.1M516.7 159.6v1.1M516.7 161.4v1.1M516.7 163.3v1.1M516.7 165.4v1.1M516.7 167.7v1.1M516.7 170.2v1.1M516.7 172.9v1.1M516.7 175.9v1.1M516.7 179.1v1.1M516.7 182.6v1.1M516.7 186.7v1.1M516.7 191.5v1.1M516.7 202.4v1.1M516.7 207.8v1.1M516.7 213.7v1.1M516.7 220.1v1.1M516.7 226.7v1.1M516.7 233.4v1.1M516.7 247.3v1.1M516.7 254.5v1.1M516.7 278.3v1.1M519.3 155.9v1.1M519.3 157.3v1.1M519.3 158.8v1.1M519.3 160.4v1.1M519.3 162.2v1.1M519.3 164.1v1.1M519.3 166.2v1.1M519.3 168.5v1.1M519.3 171.0v1.1M519.3 173.7v1.1M519.3 176.6v1.1M519.3 179.9v1.1M519.3 180.9v1.1M519.3 183.2v1.1M519.3 185.5v1.1M519.3 187.5v1.1M519.3 189.2v1.1M519.3 191.2v1.1M519.3 193.8v1.1M519.3 196.7v1.1M519.3 199.5v1.1M519.3 202.4v1.1M519.3 206.2v1.1M519.3 210.5v1.1M519.3 215.3v1.1M519.3 220.8v1.1M519.3 228.3v1.1M519.3 238.1v1.1M519.3 252.4v1.1M519.3 276.1v1.1M521.8 156.7v1.1M521.8 158.0v1.1M521.8 159.5v1.1M521.8 161.1v1.1M521.8 162.9v1.1M521.8 164.8v1.1M521.8 166.9v1.1M521.8 169.2v1.1M521.8 171.7v1.1M521.8 174.4v1.1M521.8 177.4v1.1M521.8 184.1v1.1M521.8 188.0v1.1M521.8 192.2v1.1M521.8 196.7v1.1M521.8 201.7v1.1M521.8 207.1v1.1M521.8 213.0v1.1M521.8 219.4v1.1M521.8 239.6v1.1M524.3 94.0v1.1M524.3 157.4v1.1M524.3 158.8v1.1M524.3 160.3v1.1M524.3 161.9v1.1M524.3 163.7v1.1M524.3 165.6v1.1M524.3 167.7v1.1M524.3 170.0v1.1M524.3 172.5v1.1M524.3 175.2v1.1M524.3 178.1v1.1M524.3 181.4v1.1M524.3 184.9v1.1M524.3 188.7v1.1M524.3 192.9v1.1M524.3 197.5v1.1M524.3 207.8v1.1M524.3 213.7v1.1M524.3 220.2v1.1M524.3 233.5v1.1M526.8 158.2v1.1M526.8 159.6v1.1M526.8 161.0v1.1M526.8 162.7v1.1M526.8 166.3v1.1M526.8 168.4v1.1M526.8 170.7v1.1M526.8 173.2v1.1M526.8 175.9v1.1M526.8 178.9v1.1M526.8 182.1v1.1M526.8 185.6v1.1M526.8 189.5v1.1M526.8 193.7v1.1M526.8 198.2v1.1M526.8 208.6v1.1M526.8 214.5v1.1M526.8 227.5v1.1M526.8 252.3v1.1M529.3 98.7v1.1M529.3 158.9v1.1M529.3 160.3v1.1M529.3 161.8v1.1M529.3 163.4v1.1M529.3 165.2v1.1M529.3 167.1v1.1M529.3 169.2v1.1M529.3 171.5v1.1M529.3 174.0v1.1M529.3 176.7v1.1M529.3 179.7v1.1M529.3 182.9v1.1M529.3 186.4v1.1M529.3 190.2v1.1M529.3 194.4v1.1M529.3 199.0v1.1M529.3 203.9v1.1M529.3 209.4v1.1M529.3 215.3v1.1M529.3 228.3v1.1M529.3 235.0v1.1M529.3 256.0v1.1M531.8 159.7v1.1M531.8 161.1v1.1M531.8 162.6v1.1M531.8 164.2v1.1M531.8 165.9v1.1M531.8 167.9v1.1M531.8 170.0v1.1M531.8 174.7v1.1M531.8 177.5v1.1M531.8 180.4v1.1M531.8 183.6v1.1M531.8 187.2v1.1M531.8 191.0v1.1M531.8 195.2v1.1M531.8 199.7v1.1M531.8 204.7v1.1M531.8 216.0v1.1M534.4 103.9v1.1M534.4 104.4v1.1M534.4 160.5v1.1M534.4 161.8v1.1M534.4 163.3v1.1M534.4 164.9v1.1M534.4 166.7v1.1M534.4 168.6v1.1M534.4 170.7v1.1M534.4 173.0v1.1M534.4 175.5v1.1M534.4 178.2v1.1M534.4 180.9v1.1M534.4 183.2v1.1M534.4 185.5v1.1M534.4 187.5v1.1M534.4 189.2v1.1M534.4 191.2v1.1M534.4 193.8v1.1M534.4 196.7v1.1M534.4 199.5v1.1M534.4 202.4v1.1M534.4 206.2v1.1M534.4 210.5v1.1M534.4 228.3v1.1M534.4 238.1v1.1M534.4 252.4v1.1M534.4 254.7v1.1M536.9 161.2v1.1M536.9 162.6v1.1M536.9 164.1v1.1M536.9 165.7v1.1M536.9 167.5v1.1M536.9 169.4v1.1M536.9 171.5v1.1M536.9 173.8v1.1M536.9 176.3v1.1M536.9 179.0v1.1M536.9 181.9v1.1M536.9 185.2v1.1M536.9 188.7v1.1M536.9 192.5v1.1M536.9 196.7v1.1M536.9 201.3v1.1M536.9 206.2v1.1M536.9 211.6v1.1M536.9 217.5v1.1M536.9 224.0v1.1M536.9 230.6v1.1M536.9 252.3v1.1M536.9 258.3v1.1M539.4 105.5v1.1M539.4 107.1v1.1M539.4 162.0v1.1M539.4 163.3v1.1M539.4 164.8v1.1M539.4 166.4v1.1M539.4 168.2v1.1M539.4 170.1v1.1M539.4 172.2v1.1M539.4 177.0v1.1M539.4 179.7v1.1M539.4 182.7v1.1M539.4 185.9v1.1M539.4 189.4v1.1M539.4 193.3v1.1M539.4 197.5v1.1M539.4 202.0v1.1M539.4 207.0v1.1M539.4 212.4v1.1M539.4 218.3v1.1M539.4 224.7v1.1M539.4 238.1v1.1M542.0 103.5v1.1M542.0 103.6v1.1M542.0 164.1v1.1M542.0 165.6v1.1M542.0 167.2v1.1M542.0 169.0v1.1M542.0 170.9v1.1M542.0 173.0v1.1M542.0 175.3v1.1M542.0 177.8v1.1M542.0 180.9v1.1M542.0 183.2v1.1M542.0 185.5v1.1M542.0 187.3v1.1M542.0 188.9v1.1M542.0 190.7v1.1M542.0 193.1v1.1M542.0 195.8v1.1M542.0 198.3v1.1M542.0 201.2v1.1M542.0 205.0v1.1M542.0 209.3v1.1M542.0 214.1v1.1M542.0 219.6v1.1M542.0 236.9v1.1M542.0 241.2v1.1M542.0 251.2v1.1M542.0 253.5v1.1M542.0 274.9v1.1M544.5 163.5v1.1M544.5 164.9v1.1M544.5 166.3v1.1M544.5 168.0v1.1M544.5 169.7v1.1M544.5 171.7v1.1M544.5 176.0v1.1M544.5 180.9v1.1M544.5 183.2v1.1M544.5 185.5v1.1M544.5 187.3v1.1M544.5 188.9v1.1M544.5 190.7v1.1M544.5 193.1v1.1M544.5 195.8v1.1M544.5 201.2v1.1M544.5 205.0v1.1M544.5 209.3v1.1M544.5 214.1v1.1M544.5 219.6v1.1M544.5 227.1v1.1M544.5 236.9v1.1M547.0 106.8v1.1M547.0 164.3v1.1M547.0 165.6v1.1M547.0 167.1v1.1M547.0 170.5v1.1M547.0 172.4v1.1M547.0 174.5v1.1M547.0 176.8v1.1M547.0 179.3v1.1M547.0 180.9v1.1M547.0 183.2v1.1M547.0 185.5v1.1M547.0 187.3v1.1M547.0 188.9v1.1M547.0 190.7v1.1M547.0 193.1v1.1M547.0 195.8v1.1M547.0 198.3v1.1M547.0 201.2v1.1M547.0 205.0v1.1M547.0 214.1v1.1M547.0 219.6v1.1M547.0 227.1v1.1M547.0 236.9v1.1M547.0 245.8v1.1M547.0 251.2v1.1M549.6 165.0v1.1M549.6 166.4v1.1M549.6 167.9v1.1M549.6 169.5v1.1M549.6 171.3v1.1M549.6 173.2v1.1M549.6 175.3v1.1M549.6 177.6v1.1M549.6 180.9v1.1M549.6 183.2v1.1M549.6 185.5v1.1M549.6 187.3v1.1M549.6 188.9v1.1M549.6 190.7v1.1M549.6 193.1v1.1M549.6 195.8v1.1M549.6 198.3v1.1M549.6 201.2v1.1M549.6 205.0v1.1M549.6 209.3v1.1M549.6 214.1v1.1M549.6 227.1v1.1M549.6 236.9v1.1M549.6 243.8v1.1M549.6 274.9v1.1M552.1 165.8v1.1M552.1 167.2v1.1M552.1 170.3v1.1M552.1 172.0v1.1M552.1 174.0v1.1M552.1 176.0v1.1M552.1 180.8v1.1M552.1 183.5v1.1M552.1 186.4v1.1M552.1 189.4v1.1M552.1 192.6v1.1M552.1 196.1v1.1M552.1 200.1v1.1M552.1 204.6v1.1M552.1 209.6v1.1M552.1 215.0v1.1M552.1 220.9v1.1M552.1 227.3v1.1M552.1 233.9v1.1M552.1 251.1v1.1M552.1 261.7v1.1M554.7 166.6v1.1M554.7 167.9v1.1M554.7 169.4v1.1M554.7 171.0v1.1M554.7 172.8v1.1M554.7 174.7v1.1M554.7 176.8v1.1M554.7 179.1v1.1M554.7 183.2v1.1M554.7 185.5v1.1M554.7 187.3v1.1M554.7 188.9v1.1M554.7 190.7v1.1M554.7 193.1v1.1M554.7 195.8v1.1M554.7 198.3v1.1M554.7 205.0v1.1M554.7 209.3v1.1M554.7 214.1v1.1M554.7 219.6v1.1M554.7 227.1v1.1M554.7 243.8v1.1M554.7 251.2v1.1M557.2 107.7v1.1M557.2 168.7v1.1M557.2 170.2v1.1M557.2 171.8v1.1M557.2 173.6v1.1M557.2 175.5v1.1M557.2 177.6v1.1M557.2 179.9v1.1M557.2 180.9v1.1M557.2 183.2v1.1M557.2 185.5v1.1M557.2 187.5v1.1M557.2 189.2v1.1M557.2 191.2v1.1M557.2 193.8v1.1M557.2 196.7v1.1M557.2 199.5v1.1M557.2 202.4v1.1M557.2 206.2v1.1M557.2 210.5v1.1M557.2 215.3v1.1M557.2 220.8v1.1M557.2 228.3v1.1M557.2 245.0v1.1M557.2 252.4v1.1M559.8 109.5v1.1M559.8 169.5v1.1M559.8 170.9v1.1M559.8 172.6v1.1M559.8 174.3v1.1M559.8 176.3v1.1M559.8 178.3v1.1M559.8 180.9v1.1M559.8 183.2v1.1M559.8 185.5v1.1M559.8 187.5v1.1M559.8 189.2v1.1M559.8 191.2v1.1M559.8 196.7v1.1M559.8 199.5v1.1M559.8 202.4v1.1M559.8 206.2v1.1M559.8 210.5v1.1M559.8 215.3v1.1M559.8 220.8v1.1M559.8 228.3v1.1M559.8 252.4v1.1M559.8 254.7v1.1M562.4 109.4v1.1M562.4 168.7v1.1M562.4 170.1v1.1M562.4 171.6v1.1M562.4 173.2v1.1M562.4 175.0v1.1M562.4 176.9v1.1M562.4 179.0v1.1M562.4 180.9v1.1M562.4 183.2v1.1M562.4 185.5v1.1M562.4 187.5v1.1M562.4 189.2v1.1M562.4 191.2v1.1M562.4 193.8v1.1M562.4 196.7v1.1M562.4 199.5v1.1M562.4 202.4v1.1M562.4 206.2v1.1M562.4 210.5v1.1M562.4 215.3v1.1M562.4 220.8v1.1M562.4 228.3v1.1M562.4 238.1v1.1M562.4 276.1v1.1M564.9 110.1v1.1M564.9 169.4v1.1M564.9 170.7v1.1M564.9 172.2v1.1M564.9 173.9v1.1M564.9 175.6v1.1M564.9 177.5v1.1M564.9 179.6v1.1M564.9 180.9v1.1M564.9 183.2v1.1M564.9 185.5v1.1M564.9 187.5v1.1M564.9 189.2v1.1M564.9 191.2v1.1M564.9 193.8v1.1M564.9 196.7v1.1M564.9 199.5v1.1M564.9 202.4v1.1M564.9 210.5v1.1M564.9 215.3v1.1M564.9 220.8v1.1M564.9 238.1v1.1M564.9 252.4v1.1M564.9 254.7v1.1M564.9 276.1v1.1M567.5 170.0v1.1M567.5 171.4v1.1M567.5 172.9v1.1M567.5 174.5v1.1M567.5 176.3v1.1M567.5 178.2v1.1M567.5 180.9v1.1M567.5 183.2v1.1M567.5 185.5v1.1M567.5 187.5v1.1M567.5 189.2v1.1M567.5 191.2v1.1M567.5 193.8v1.1M567.5 196.7v1.1M567.5 199.5v1.1M567.5 202.4v1.1M567.5 206.2v1.1M567.5 210.5v1.1M567.5 215.3v1.1M567.5 220.8v1.1M567.5 238.1v1.1M567.5 242.4v1.1M567.5 254.7v1.1M567.5 276.1v1.1M570.1 170.7v1.1M570.1 172.0v1.1M570.1 173.5v1.1M570.1 175.1v1.1M570.1 176.9v1.1M570.1 178.8v1.1M570.1 180.9v1.1M570.1 183.2v1.1M570.1 185.5v1.1M570.1 187.5v1.1M570.1 189.2v1.1M570.1 191.2v1.1M570.1 193.8v1.1M570.1 196.7v1.1M570.1 202.4v1.1M570.1 210.5v1.1M570.1 215.3v1.1M570.1 238.1v1.1M570.1 252.4v1.1M570.1 254.7v1.1M572.6 111.8v1.1M572.6 171.3v1.1M572.6 172.7v1.1M572.6 174.2v1.1M572.6 175.8v1.1M572.6 177.5v1.1M572.6 179.5v1.1M572.6 180.9v1.1M572.6 183.2v1.1M572.6 185.6v1.1M572.6 187.9v1.1M572.6 189.8v1.1M572.6 192.1v1.1M572.6 198.4v1.1M572.6 204.6v1.1M572.6 208.4v1.1M572.6 212.7v1.1M572.6 217.5v1.1M572.6 223.0v1.1M572.6 230.5v1.1M572.6 240.3v1.1M572.6 278.3v1.1M575.2 111.2v1.1M575.2 111.3v1.1M575.2 172.0v1.1M575.2 173.3v1.1M575.2 174.8v1.1M575.2 176.4v1.1M575.2 178.2v1.1M575.2 180.9v1.1M575.2 183.2v1.1M575.2 185.6v1.1M575.2 187.9v1.1M575.2 189.8v1.1M575.2 192.1v1.1M575.2 195.1v1.1M575.2 198.4v1.1M575.2 201.6v1.1M575.2 204.6v1.1M575.2 208.4v1.1M575.2 212.7v1.1M575.2 217.5v1.1M575.2 223.0v1.1M575.2 240.3v1.1M577.8 110.6v1.1M577.8 172.6v1.1M577.8 174.0v1.1M577.8 175.5v1.1M577.8 177.1v1.1M577.8 178.8v1.1M577.8 180.9v1.1M577.8 183.2v1.1M577.8 187.9v1.1M577.8 189.8v1.1M577.8 192.1v1.1M577.8 195.1v1.1M577.8 198.4v1.1M577.8 201.6v1.1M577.8 204.6v1.1M577.8 208.4v1.1M577.8 212.7v1.1M577.8 217.5v1.1M577.8 223.0v1.1M577.8 230.5v1.1M577.8 247.2v1.1M577.8 254.6v1.1M580.4 173.2v1.1M580.4 174.6v1.1M580.4 176.0v1.1M580.4 177.7v1.1M580.4 179.4v1.1M580.4 180.9v1.1M580.4 183.2v1.1M580.4 185.6v1.1M580.4 187.9v1.1M580.4 189.8v1.1M580.4 192.1v1.1M580.4 195.1v1.1M580.4 198.4v1.1M580.4 201.6v1.1M580.4 204.6v1.1M580.4 208.4v1.1M580.4 212.7v1.1M580.4 217.5v1.1M580.4 223.0v1.1M580.4 254.6v1.1M580.4 256.9v1.1M583.0 173.5v1.1M583.0 176.4v1.1M583.0 178.0v1.1M583.0 179.8v1.1M583.0 180.9v1.1M583.0 183.2v1.1M583.0 185.6v1.1M583.0 187.9v1.1M583.0 189.8v1.1M583.0 192.1v1.1M583.0 195.1v1.1M583.0 198.4v1.1M583.0 201.6v1.1M583.0 204.6v1.1M583.0 208.4v1.1M583.0 212.7v1.1M583.0 217.5v1.1M583.0 223.0v1.1M583.0 230.5v1.1M583.0 240.3v1.1M585.6 115.1v1.1M585.6 173.8v1.1M585.6 175.2v1.1M585.6 176.7v1.1M585.6 178.3v1.1M585.6 180.9v1.1M585.6 183.2v1.1M585.6 185.6v1.1M585.6 187.9v1.1M585.6 189.8v1.1M585.6 192.1v1.1M585.6 195.1v1.1M585.6 198.4v1.1M585.6 201.6v1.1M585.6 204.6v1.1M585.6 208.4v1.1M585.6 212.7v1.1M585.6 217.5v1.1M585.6 223.0v1.1M585.6 230.5v1.1M585.6 240.3v1.1M585.6 254.6v1.1M588.2 174.2v1.1M588.2 175.5v1.1M588.2 177.0v1.1M588.2 178.6v1.1M588.2 180.9v1.1M588.2 183.2v1.1M588.2 185.5v1.1M588.2 187.7v1.1M588.2 189.5v1.1M588.2 191.7v1.1M588.2 194.5v1.1M588.2 197.6v1.1M588.2 200.7v1.1M588.2 203.6v1.1M588.2 207.4v1.1M588.2 211.7v1.1M588.2 222.0v1.1M588.2 229.5v1.1M588.2 233.8v1.1M588.2 253.6v1.1M588.2 255.9v1.1M590.8 119.4v1.1M590.8 174.5v1.1M590.8 175.9v1.1M590.8 179.0v1.1M590.8 180.9v1.1M590.8 183.2v1.1M590.8 185.5v1.1M590.8 187.7v1.1M590.8 189.5v1.1M590.8 191.7v1.1M590.8 194.5v1.1M590.8 197.6v1.1M590.8 200.7v1.1M590.8 203.6v1.1M590.8 207.4v1.1M590.8 211.7v1.1M590.8 216.5v1.1M590.8 222.0v1.1M590.8 229.5v1.1M590.8 239.3v1.1M590.8 253.6v1.1M593.4 174.8v1.1M593.4 176.2v1.1M593.4 177.7v1.1M593.4 179.3v1.1M593.4 180.9v1.1M593.4 183.2v1.1M593.4 185.5v1.1M593.4 187.7v1.1M593.4 189.5v1.1M593.4 191.7v1.1M593.4 194.5v1.1M593.4 197.6v1.1M593.4 200.7v1.1M593.4 203.6v1.1M593.4 207.4v1.1M593.4 211.7v1.1M593.4 216.5v1.1M593.4 229.5v1.1M593.4 239.3v1.1M593.4 253.6v1.1M596.0 120.5v1.1M596.0 175.1v1.1M596.0 176.5v1.1M596.0 178.0v1.1M596.0 179.6v1.1M596.0 180.9v1.1M596.0 183.2v1.1M596.0 185.5v1.1M596.0 187.7v1.1M596.0 189.5v1.1M596.0 191.7v1.1M596.0 194.5v1.1M596.0 197.6v1.1M596.0 200.7v1.1M596.0 203.6v1.1M596.0 207.4v1.1M596.0 211.7v1.1M596.0 216.5v1.1M596.0 222.0v1.1M596.0 229.5v1.1M596.0 239.3v1.1M596.0 253.6v1.1M596.0 255.9v1.1M598.6 120.8v1.1M598.6 175.5v1.1M598.6 176.8v1.1M598.6 178.3v1.1M598.6 179.9v1.1M598.6 180.9v1.1M598.6 183.2v1.1M598.6 185.5v1.1M598.6 187.7v1.1M598.6 189.5v1.1M598.6 191.7v1.1M598.6 194.5v1.1M598.6 197.6v1.1M598.6 200.7v1.1M598.6 203.6v1.1M598.6 207.4v1.1M598.6 229.5v1.1M598.6 239.3v1.1M598.6 248.2v1.1M598.6 253.6v1.1M598.6 255.9v1.1M601.2 120.1v1.1M601.2 175.7v1.1M601.2 177.0v1.1M601.2 178.5v1.1M601.2 180.9v1.1M601.2 183.2v1.1M601.2 185.5v1.1M601.2 187.7v1.1M601.2 191.7v1.1M601.2 194.5v1.1M601.2 197.6v1.1M601.2 200.7v1.1M601.2 203.6v1.1M601.2 207.4v1.1M601.2 211.7v1.1M601.2 222.0v1.1M601.2 229.5v1.1M601.2 233.8v1.1M601.2 239.3v1.1M601.2 246.2v1.1M601.2 253.6v1.1M601.2 255.9v1.1M603.8 116.8v1.1M603.8 175.7v1.1M603.8 177.0v1.1M603.8 178.5v1.1M603.8 180.9v1.1M603.8 183.2v1.1M603.8 185.5v1.1M603.8 187.5v1.1M603.8 189.2v1.1M603.8 191.2v1.1M603.8 193.8v1.1M603.8 196.7v1.1M603.8 199.5v1.1M603.8 202.4v1.1M603.8 206.2v1.1M603.8 210.5v1.1M603.8 215.3v1.1M603.8 220.8v1.1M603.8 228.3v1.1M603.8 232.6v1.1M603.8 252.4v1.1M603.8 276.1v1.1M606.4 175.7v1.1M606.4 177.1v1.1M606.4 178.5v1.1M606.4 180.9v1.1M606.4 183.2v1.1M606.4 185.5v1.1M606.4 187.5v1.1M606.4 189.2v1.1M606.4 191.2v1.1M606.4 193.8v1.1M606.4 196.7v1.1M606.4 199.5v1.1M606.4 202.4v1.1M606.4 206.2v1.1M606.4 210.5v1.1M606.4 215.3v1.1M606.4 220.8v1.1M606.4 238.1v1.1M606.4 252.4v1.1M609.0 121.0v1.1M609.0 175.7v1.1M609.0 177.1v1.1M609.0 178.6v1.1M609.0 180.9v1.1M609.0 183.2v1.1M609.0 185.5v1.1M609.0 187.5v1.1M609.0 189.2v1.1M609.0 191.2v1.1M609.0 193.8v1.1M609.0 196.7v1.1M609.0 199.5v1.1M609.0 202.4v1.1M609.0 206.2v1.1M609.0 210.5v1.1M609.0 215.3v1.1M609.0 220.8v1.1M609.0 228.3v1.1M609.0 252.4v1.1M611.7 175.7v1.1M611.7 177.1v1.1M611.7 178.6v1.1M611.7 180.9v1.1M611.7 183.2v1.1M611.7 187.5v1.1M611.7 189.2v1.1M611.7 191.2v1.1M611.7 193.8v1.1M611.7 196.7v1.1M611.7 199.5v1.1M611.7 202.4v1.1M611.7 206.2v1.1M611.7 215.3v1.1M611.7 220.8v1.1M611.7 228.3v1.1M611.7 238.1v1.1M611.7 245.0v1.1M611.7 252.4v1.1M614.3 120.3v1.1M614.3 175.8v1.1M614.3 177.1v1.1M614.3 178.6v1.1M614.3 180.9v1.1M614.3 183.2v1.1M614.3 185.5v1.1M614.3 187.5v1.1M614.3 189.2v1.1M614.3 191.2v1.1M614.3 193.8v1.1M614.3 196.7v1.1M614.3 199.5v1.1M614.3 202.4v1.1M614.3 206.2v1.1M614.3 210.5v1.1M614.3 215.3v1.1M614.3 228.3v1.1M614.3 238.1v1.1M614.3 245.0v1.1M614.3 252.4v1.1M614.3 276.1v1.1M616.9 175.8v1.1M616.9 177.1v1.1M616.9 178.6v1.1M616.9 180.9v1.1M616.9 183.2v1.1M616.9 185.5v1.1M616.9 187.5v1.1M616.9 189.2v1.1M616.9 191.2v1.1M616.9 193.8v1.1M616.9 196.7v1.1M616.9 199.5v1.1M616.9 202.4v1.1M616.9 206.2v1.1M616.9 210.5v1.1M616.9 215.3v1.1M616.9 228.3v1.1M616.9 238.1v1.1M616.9 252.4v1.1M616.9 276.1v1.1M619.6 175.8v1.1M619.6 177.2v1.1M619.6 178.6v1.1M619.6 180.9v1.1M619.6 183.2v1.1M619.6 185.5v1.1M619.6 187.5v1.1M619.6 189.2v1.1M619.6 191.2v1.1M619.6 193.8v1.1M619.6 196.7v1.1M619.6 199.5v1.1M619.6 202.4v1.1M619.6 206.2v1.1M619.6 210.5v1.1M619.6 215.3v1.1M619.6 220.8v1.1M619.6 228.3v1.1M619.6 247.0v1.1M619.6 252.4v1.1M622.2 175.8v1.1M622.2 177.2v1.1M622.2 178.7v1.1M622.2 180.9v1.1M622.2 183.2v1.1M622.2 185.5v1.1M622.2 189.2v1.1M622.2 191.2v1.1M622.2 193.8v1.1M622.2 196.7v1.1M622.2 199.5v1.1M622.2 202.4v1.1M622.2 206.2v1.1M622.2 210.5v1.1M622.2 215.3v1.1M622.2 228.3v1.1M622.2 238.1v1.1M622.2 247.0v1.1M624.8 128.4v1.1M624.8 175.8v1.1M624.8 177.2v1.1M624.8 178.7v1.1M624.8 180.9v1.1M624.8 183.2v1.1M624.8 185.5v1.1M624.8 187.5v1.1M624.8 189.2v1.1M624.8 193.8v1.1M624.8 196.7v1.1M624.8 199.5v1.1M624.8 206.2v1.1M624.8 210.5v1.1M624.8 215.3v1.1M624.8 220.8v1.1M624.8 228.3v1.1M624.8 242.4v1.1M627.5 127.9v1.1M627.5 175.9v1.1M627.5 177.2v1.1M627.5 178.7v1.1M627.5 180.9v1.1M627.5 183.2v1.1M627.5 185.5v1.1M627.5 187.3v1.1M627.5 188.9v1.1M627.5 190.7v1.1M627.5 193.1v1.1M627.5 195.8v1.1M627.5 198.3v1.1M627.5 201.2v1.1M627.5 205.0v1.1M627.5 214.1v1.1M627.5 219.6v1.1M627.5 227.1v1.1M627.5 251.2v1.1M630.1 128.7v1.1M630.1 128.8v1.1M630.1 175.9v1.1M630.1 177.2v1.1M630.1 178.7v1.1M630.1 180.9v1.1M630.1 183.2v1.1M630.1 185.5v1.1M630.1 187.3v1.1M630.1 190.7v1.1M630.1 193.1v1.1M630.1 195.8v1.1M630.1 198.3v1.1M630.1 201.2v1.1M630.1 205.0v1.1M630.1 209.3v1.1M630.1 214.1v1.1M630.1 219.6v1.1M630.1 227.1v1.1M630.1 251.2v1.1M630.1 253.5v1.1M632.8 132.7v1.1M632.8 175.9v1.1M632.8 177.3v1.1M632.8 180.9v1.1M632.8 183.2v1.1M632.8 185.5v1.1M632.8 187.3v1.1M632.8 188.9v1.1M632.8 190.7v1.1M632.8 193.1v1.1M632.8 195.8v1.1M632.8 198.3v1.1M632.8 201.2v1.1M632.8 205.0v1.1M632.8 209.3v1.1M632.8 214.1v1.1M632.8 219.6v1.1M632.8 236.9v1.1M632.8 251.2v1.1M635.4 133.4v1.1M635.4 175.9v1.1M635.4 177.3v1.1M635.4 178.8v1.1M635.4 180.9v1.1M635.4 183.2v1.1M635.4 185.5v1.1M635.4 188.9v1.1M635.4 190.7v1.1M635.4 193.1v1.1M635.4 195.8v1.1M635.4 198.3v1.1M635.4 201.2v1.1M635.4 205.0v1.1M635.4 209.3v1.1M635.4 214.1v1.1M635.4 227.1v1.1M635.4 236.9v1.1M638.1 131.1v1.1M638.1 175.9v1.1M638.1 177.3v1.1M638.1 180.9v1.1M638.1 185.5v1.1M638.1 187.3v1.1M638.1 188.9v1.1M638.1 190.7v1.1M638.1 193.1v1.1M638.1 195.8v1.1M638.1 198.3v1.1M638.1 201.2v1.1M638.1 205.0v1.1M638.1 209.3v1.1M638.1 214.1v1.1M638.1 219.6v1.1M638.1 227.1v1.1M638.1 231.4v1.1M640.8 136.1v1.1M640.8 176.0v1.1M640.8 177.3v1.1M640.8 178.8v1.1M640.8 180.9v1.1M640.8 183.2v1.1M640.8 185.5v1.1M640.8 187.3v1.1M640.8 188.9v1.1M640.8 190.7v1.1M640.8 193.1v1.1M640.8 195.8v1.1M640.8 198.3v1.1M640.8 201.2v1.1M640.8 205.0v1.1M640.8 209.3v1.1M640.8 214.1v1.1M640.8 219.6v1.1M640.8 227.1v1.1M640.8 236.9v1.1M640.8 245.8v1.1M640.8 251.2v1.1M643.4 136.4v1.1M643.4 176.0v1.1M643.4 177.3v1.1M643.4 178.8v1.1M643.4 180.9v1.1M643.4 183.2v1.1M643.4 185.5v1.1M643.4 187.3v1.1M643.4 188.9v1.1M643.4 190.7v1.1M643.4 193.1v1.1M643.4 195.8v1.1M643.4 198.3v1.1M643.4 201.2v1.1M643.4 205.0v1.1M643.4 209.3v1.1M643.4 214.1v1.1M643.4 219.6v1.1M643.4 227.1v1.1M643.4 236.9v1.1M643.4 251.2v1.1M643.4 253.5v1.1M643.4 274.9v1.1M646.1 176.0v1.1M646.1 177.4v1.1M646.1 178.8v1.1M646.1 180.9v1.1M646.1 183.2v1.1M646.1 185.5v1.1M646.1 187.3v1.1M646.1 188.9v1.1M646.1 190.7v1.1M646.1 193.1v1.1M646.1 195.8v1.1M646.1 198.3v1.1M646.1 205.0v1.1M646.1 209.3v1.1M646.1 219.6v1.1M646.1 227.1v1.1M646.1 236.9v1.1M646.1 251.2v1.1M648.8 176.0v1.1M648.8 177.4v1.1M648.8 178.9v1.1M648.8 180.9v1.1M648.8 183.2v1.1M648.8 185.5v1.1M648.8 187.3v1.1M648.8 188.9v1.1M648.8 190.7v1.1M648.8 193.1v1.1M648.8 195.8v1.1M648.8 198.3v1.1M648.8 201.2v1.1M648.8 205.0v1.1M648.8 214.1v1.1M648.8 219.6v1.1M648.8 227.1v1.1M648.8 236.9v1.1M648.8 251.2v1.1M648.8 253.5v1.1M648.8 270.9v1.1M651.4 135.1v1.1M651.4 176.0v1.1M651.4 177.4v1.1M651.4 178.9v1.1M651.4 180.9v1.1M651.4 183.2v1.1M651.4 185.5v1.1M651.4 187.3v1.1M651.4 188.9v1.1M651.4 190.7v1.1M651.4 193.1v1.1M651.4 195.8v1.1M651.4 198.3v1.1M651.4 201.2v1.1M651.4 205.0v1.1M651.4 209.3v1.1M651.4 214.1v1.1M651.4 219.6v1.1M651.4 227.1v1.1M654.1 132.5v1.1M654.1 133.6v1.1M654.1 176.1v1.1M654.1 177.4v1.1M654.1 178.9v1.1M654.1 180.9v1.1M654.1 183.2v1.1M654.1 185.5v1.1M654.1 187.3v1.1M654.1 188.9v1.1M654.1 190.7v1.1M654.1 193.1v1.1M654.1 195.8v1.1M654.1 198.3v1.1M654.1 201.2v1.1M654.1 205.0v1.1M654.1 209.3v1.1M654.1 214.1v1.1M654.1 219.6v1.1M654.1 227.1v1.1M654.1 236.9v1.1M654.1 241.2v1.1M654.1 251.2v1.1M654.1 253.5v1.1M656.8 176.1v1.1M656.8 177.4v1.1M656.8 178.9v1.1M656.8 180.9v1.1M656.8 183.2v1.1M656.8 185.5v1.1M656.8 187.3v1.1M656.8 188.9v1.1M656.8 190.7v1.1M656.8 193.1v1.1M656.8 195.8v1.1M656.8 198.3v1.1M656.8 205.0v1.1M656.8 209.3v1.1M656.8 214.1v1.1M656.8 219.6v1.1M656.8 227.1v1.1M656.8 241.2v1.1M656.8 251.2v1.1M656.8 274.9v1.1M659.5 137.4v1.1M659.5 176.1v1.1M659.5 177.5v1.1M659.5 178.9v1.1M659.5 180.9v1.1M659.5 183.2v1.1M659.5 185.6v1.1M659.5 187.9v1.1M659.5 189.8v1.1M659.5 192.1v1.1M659.5 195.1v1.1M659.5 198.4v1.1M659.5 204.6v1.1M659.5 208.4v1.1M659.5 212.7v1.1M659.5 217.5v1.1M659.5 223.0v1.1M659.5 234.8v1.1M659.5 244.6v1.1M659.5 254.6v1.1M662.2 137.2v1.1M662.2 176.1v1.1M662.2 177.5v1.1M662.2 180.9v1.1M662.2 183.2v1.1M662.2 185.6v1.1M662.2 187.9v1.1M662.2 189.8v1.1M662.2 192.1v1.1M662.2 198.4v1.1M662.2 201.6v1.1M662.2 204.6v1.1M662.2 208.4v1.1M662.2 212.7v1.1M662.2 217.5v1.1M662.2 223.0v1.1M662.2 230.5v1.1M662.2 240.3v1.1M662.2 254.6v1.1M662.2 256.9v1.1M664.9 176.1v1.1M664.9 177.5v1.1M664.9 179.0v1.1M664.9 180.9v1.1M664.9 183.2v1.1M664.9 185.6v1.1M664.9 187.9v1.1M664.9 189.8v1.1M664.9 192.1v1.1M664.9 195.1v1.1M664.9 198.4v1.1M664.9 201.6v1.1M664.9 204.6v1.1M664.9 208.4v1.1M664.9 212.7v1.1M664.9 217.5v1.1M664.9 223.0v1.1M664.9 230.5v1.1M664.9 240.3v1.1" stroke="#333" stroke-width="1.55" fill="none"/>
<path d="M61.0 179.3L65.0 179.8L70.0 178.5L75.0 175.0L80.0 169.0L83.0 164.0L86.0 157.0L89.0 148.0L91.0 146.5L93.0 148.0L96.0 152.0L98.0 165.0L99.5 178.0L101.0 190.0L103.0 197.0L104.5 197.5L106.0 190.0L107.5 175.0L109.0 160.0L111.0 150.0L113.4 151.7L116.0 163.0L118.0 175.0L119.5 181.9L121.0 178.0L122.5 170.0L125.5 155.2L129.0 149.1L132.4 149.1L135.9 155.2L138.0 165.0L139.3 172.4L141.0 168.0L142.8 165.5L146.2 160.3L149.7 151.7L153.1 149.1L156.6 150.0L160.0 148.6L162.1 147.6L167.2 141.6L172.4 138.1L177.6 136.5L180.0 133.6L184.6 127.4L189.2 120.5L193.8 119.8L196.9 116.7L199.9 109.0L204.5 101.4L209.1 100.2L212.2 99.1L216.8 95.2L221.4 90.7L226.0 86.1L230.6 79.5L235.0 73.0L239.6 63.0L244.3 48.0L249.0 35.3L252.6 30.0L255.6 30.0L258.5 35.3L261.5 47.2L264.5 50.8L268.0 48.4L272.2 39.5L275.8 41.9L278.7 49.6L282.3 56.7L287.0 60.3L293.0 64.5L298.9 68.5L302.0 73.0L305.3 76.9L310.5 81.2L315.7 82.1L320.9 81.2L326.0 79.5L331.2 78.6L336.4 79.5L341.6 82.9L346.7 86.4L351.9 89.0L357.1 90.7L364.0 89.8L370.9 91.0L377.8 92.4L382.9 93.3L388.1 95.9L394.1 97.9L398.6 98.6L407.2 101.2L415.9 104.7L424.5 109.0L433.1 111.6L440.0 113.3L448.6 115.9L455.5 120.2L464.1 121.9L472.8 126.2L481.4 128.8L490.0 133.0L496.0 136.8L500.4 135.9L507.4 139.3L517.8 142.8L528.1 147.1L540.0 149.8L548.0 152.5L555.0 155.0L570.0 157.5L580.0 160.5L588.0 162.3L600.7 164.1L609.3 164.5L616.2 165.0L619.6 167.3L623.1 166.7L631.7 170.6L641.0 172.6L649.0 173.6L657.6 174.5L667.0 174.8" stroke="#000" stroke-width="2.35" fill="none" stroke-linejoin="round" stroke-linecap="round"/>
<line x1="439.1" y1="11.5" x2="439.1" y2="279" stroke="#dc1717" stroke-width="2.4"/>
<line x1="254.1" y1="11.5" x2="254.1" y2="279" stroke="#1d39a8" stroke-width="2.5"/>
<line x1="223.1" y1="11.5" x2="223.1" y2="279" stroke="#8eec3a" stroke-width="2.1"/>
<rect x="61.1" y="10.8" width="606.4" height="268.9" fill="none" stroke="#111" stroke-width="1.8"/>
<path d="M61.1 10.8h5.5M667.5 10.8h-5.5M61.1 78.0h5.5M667.5 78.0h-5.5M61.1 145.2h5.5M667.5 145.2h-5.5M61.1 212.4h5.5M667.5 212.4h-5.5M61.1 279.6h5.5M667.5 279.6h-5.5M138.2 279.7v-5.5M138.2 10.8v5.5M258.8 279.7v-5.5M258.8 10.8v5.5M379.1 279.7v-5.5M379.1 10.8v5.5M499.6 279.7v-5.5M499.6 10.8v5.5M620.1 279.7v-5.5M620.1 10.8v5.5" stroke="#111" stroke-width="1.6"/>
<path d="M62.7 345.5h4M231.3 345.5h-4M62.7 362.3h4M231.3 362.3h-4M62.7 379.0h4M231.3 379.0h-4M62.7 395.8h4M231.3 395.8h-4M62.7 412.6h4M231.3 412.6h-4M62.7 429.3h4M231.3 429.3h-4M62.7 446.1h4M231.3 446.1h-4M62.7 462.8h4M231.3 462.8h-4M62.7 479.6h4M231.3 479.6h-4M87.7 479.6v-4M87.7 345.5v4M112.7 479.6v-4M112.7 345.5v4M137.7 479.6v-4M137.7 345.5v4M162.7 479.6v-4M162.7 345.5v4M187.7 479.6v-4M187.7 345.5v4M212.7 479.6v-4M212.7 345.5v4" stroke="#000" stroke-width="1.3"/>
<path d="M68.50 479.60V465.20H74.79V479.60ZM74.79 479.60V408.80H81.08V479.60ZM81.08 479.60V354.70H87.37V479.60ZM87.37 479.60V358.60H93.66V479.60ZM93.66 479.60V367.30H99.95V479.60ZM99.95 479.60V396.70H106.24V479.60ZM106.24 479.60V409.30H112.53V479.60ZM112.53 479.60V427.20H118.82V479.60ZM118.82 479.60V446.00H125.11V479.60ZM125.11 479.60V452.60H131.40V479.60ZM131.40 479.60V459.20H137.69V479.60ZM137.69 479.60V467.60H143.98V479.60ZM143.98 479.60V466.80H150.27V479.60ZM150.27 479.60V469.90H156.56V479.60ZM156.56 479.60V474.00H162.85V479.60ZM162.85 479.60V476.00H169.14V479.60ZM169.14 479.60V476.80H175.43V479.60ZM175.43 479.60V477.60H181.72V479.60ZM181.72 479.60V478.00H188.01V479.60ZM188.01 479.60V478.20H194.30V479.60ZM194.30 479.60V478.40H200.59V479.60ZM200.59 479.60V478.40H206.88V479.60ZM206.88 479.60V478.50H213.17V479.60ZM213.17 479.60V478.60H219.46V479.60Z" fill="#12ee12" stroke="#000" stroke-width="1.3"/>
<rect x="62.7" y="345.5" width="168.6" height="134.1" fill="none" stroke="#000" stroke-width="1.5"/>
<path d="M281.4 345.5h4M449.9 345.5h-4M281.4 358.9h4M449.9 358.9h-4M281.4 372.3h4M449.9 372.3h-4M281.4 385.7h4M449.9 385.7h-4M281.4 399.1h4M449.9 399.1h-4M281.4 412.6h4M449.9 412.6h-4M281.4 426.0h4M449.9 426.0h-4M281.4 439.4h4M449.9 439.4h-4M281.4 452.8h4M449.9 452.8h-4M281.4 466.2h4M449.9 466.2h-4M281.4 479.6h4M449.9 479.6h-4M316.3 479.6v-4M316.3 345.5v4M360.9 479.6v-4M360.9 345.5v4M405.2 479.6v-4M405.2 345.5v4" stroke="#000" stroke-width="1.3"/>
<path d="M289.20 479.60V478.20H294.24V479.60ZM294.24 479.60V467.70H299.28V479.60ZM299.28 479.60V461.90H304.32V479.60ZM304.32 479.60V442.00H309.36V479.60ZM309.36 479.60V426.20H314.40V479.60ZM314.40 479.60V406.80H319.44V479.60ZM319.44 479.60V402.00H324.48V479.60ZM324.48 479.60V379.20H329.52V479.60ZM329.52 479.60V373.10H334.56V479.60ZM334.56 479.60V376.30H339.60V479.60ZM339.60 479.60V356.00H344.64V479.60ZM344.64 479.60V386.80H349.68V479.60ZM349.68 479.60V386.30H354.72V479.60ZM354.72 479.60V390.20H359.76V479.60ZM359.76 479.60V414.40H364.80V479.60ZM364.80 479.60V428.80H369.84V479.60ZM369.84 479.60V438.00H374.88V479.60ZM374.88 479.60V452.00H379.92V479.60ZM379.92 479.60V456.40H384.96V479.60ZM384.96 479.60V466.90H390.00V479.60ZM390.00 479.60V463.80H395.04V479.60ZM395.04 479.60V469.00H400.08V479.60ZM400.08 479.60V473.80H405.12V479.60Z" fill="#0c0cee" stroke="#000" stroke-width="1.3"/>
<rect x="281.4" y="345.5" width="168.5" height="134.1" fill="none" stroke="#000" stroke-width="1.5"/>
<path d="M498.9 345.5h4M667.3 345.5h-4M498.9 367.9h4M667.3 367.9h-4M498.9 390.2h4M667.3 390.2h-4M498.9 412.6h4M667.3 412.6h-4M498.9 434.9h4M667.3 434.9h-4M498.9 457.2h4M667.3 457.2h-4M498.9 479.6h4M667.3 479.6h-4M517.5 479.6v-4M517.5 345.5v4M538.4 479.6v-4M538.4 345.5v4M559.3 479.6v-4M559.3 345.5v4M580.2 479.6v-4M580.2 345.5v4M601.1 479.6v-4M601.1 345.5v4M622.0 479.6v-4M622.0 345.5v4M642.9 479.6v-4M642.9 345.5v4M663.8 479.6v-4M663.8 345.5v4" stroke="#000" stroke-width="1.3"/>
<path d="M499.60 479.60V353.00H506.11V479.60ZM506.11 479.60V415.60H512.62V479.60ZM512.62 479.60V427.00H519.13V479.60ZM519.13 479.60V437.30H525.64V479.60ZM525.64 479.60V440.10H532.15V479.60ZM532.15 479.60V454.20H538.66V479.60ZM538.66 479.60V459.60H545.17V479.60ZM545.17 479.60V465.60H551.68V479.60ZM551.68 479.60V464.50H558.19V479.60ZM558.19 479.60V468.60H564.70V479.60ZM564.70 479.60V473.20H571.21V479.60ZM571.21 479.60V474.60H577.72V479.60ZM577.72 479.60V475.10H584.23V479.60ZM584.23 479.60V476.50H590.74V479.60ZM590.74 479.60V477.30H597.25V479.60ZM597.25 479.60V477.80H603.76V479.60ZM603.76 479.60V478.10H610.27V479.60ZM610.27 479.60V477.30H616.78V479.60ZM616.78 479.60V478.70H623.29V479.60ZM623.29 479.60V478.90H629.80V479.60ZM629.80 479.60V479.00H636.31V479.60ZM636.31 479.60V479.00H642.82V479.60Z" fill="#ee0c0c" stroke="#000" stroke-width="1.3"/>
<rect x="498.9" y="345.5" width="168.4" height="134.1" fill="none" stroke="#000" stroke-width="1.5"/>
<rect x="148.4" y="358.5" width="67.2" height="66.7" fill="#fff"/>
<path d="M156.1 358.5V425.2M164.4 358.5V425.2M191.0 358.5V425.2M202.8 358.5V425.2M211.1 358.5V425.2M148.4 369.9H215.6M148.4 382.5H215.6M148.4 394.0H215.6M148.4 382.5H215.6M148.4 406.6H215.6M148.4 418.1H215.6M148.4 406.6H215.6" stroke="#d4d4d4" stroke-width="0.5" stroke-dasharray="0.8 1.4" fill="none"/>
<path d="M148.4 369.9h3.5M215.6 369.9h-3.5M148.4 394.0h3.5M215.6 394.0h-3.5M148.4 418.1h3.5M215.6 418.1h-3.5M171.2 425.2v-3.5M171.2 358.5v3.5" stroke="#333" stroke-width="0.8"/>
<path d="M149.17 360.98a1.5 1.5 0 1 0 0.01 0ZM150.35 360.89a1.5 1.5 0 1 0 0.01 0ZM151.00 361.22a1.5 1.5 0 1 0 0.01 0ZM151.71 361.16a1.5 1.5 0 1 0 0.01 0ZM152.87 361.91a1.5 1.5 0 1 0 0.01 0ZM153.45 361.29a1.5 1.5 0 1 0 0.01 0ZM154.35 362.66a1.5 1.5 0 1 0 0.01 0ZM155.61 361.48a1.5 1.5 0 1 0 0.01 0ZM156.68 363.76a1.5 1.5 0 1 0 0.01 0ZM157.39 363.60a1.5 1.5 0 1 0 0.01 0ZM157.99 362.92a1.5 1.5 0 1 0 0.01 0ZM159.11 363.54a1.5 1.5 0 1 0 0.01 0ZM159.81 364.38a1.5 1.5 0 1 0 0.01 0ZM160.61 365.26a1.5 1.5 0 1 0 0.01 0ZM161.76 366.45a1.5 1.5 0 1 0 0.01 0ZM162.71 366.48a1.5 1.5 0 1 0 0.01 0ZM163.59 367.12a1.5 1.5 0 1 0 0.01 0ZM164.47 366.99a1.5 1.5 0 1 0 0.01 0ZM165.69 369.06a1.5 1.5 0 1 0 0.01 0ZM166.50 369.12a1.5 1.5 0 1 0 0.01 0ZM167.08 368.73a1.5 1.5 0 1 0 0.01 0ZM167.97 368.97a1.5 1.5 0 1 0 0.01 0ZM169.15 370.20a1.5 1.5 0 1 0 0.01 0ZM170.10 370.74a1.5 1.5 0 1 0 0.01 0ZM171.07 372.27a1.5 1.5 0 1 0 0.01 0ZM171.40 371.60a1.5 1.5 0 1 0 0.01 0ZM172.84 372.73a1.5 1.5 0 1 0 0.01 0ZM173.78 373.21a1.5 1.5 0 1 0 0.01 0ZM174.14 374.32a1.5 1.5 0 1 0 0.01 0ZM175.46 374.24a1.5 1.5 0 1 0 0.01 0ZM175.60 374.76a1.5 1.5 0 1 0 0.01 0ZM176.67 376.00a1.5 1.5 0 1 0 0.01 0ZM176.72 375.46a1.5 1.5 0 1 0 0.01 0ZM177.26 375.69a1.5 1.5 0 1 0 0.01 0ZM178.22 376.52a1.5 1.5 0 1 0 0.01 0ZM178.63 377.66a1.5 1.5 0 1 0 0.01 0ZM178.96 378.83a1.5 1.5 0 1 0 0.01 0ZM179.47 379.25a1.5 1.5 0 1 0 0.01 0ZM180.01 379.47a1.5 1.5 0 1 0 0.01 0ZM180.62 379.99a1.5 1.5 0 1 0 0.01 0ZM181.63 381.88a1.5 1.5 0 1 0 0.01 0ZM181.78 382.87a1.5 1.5 0 1 0 0.01 0ZM182.27 382.71a1.5 1.5 0 1 0 0.01 0ZM183.21 384.05a1.5 1.5 0 1 0 0.01 0ZM183.31 385.64a1.5 1.5 0 1 0 0.01 0ZM183.92 385.07a1.5 1.5 0 1 0 0.01 0ZM184.81 386.11a1.5 1.5 0 1 0 0.01 0ZM185.07 386.49a1.5 1.5 0 1 0 0.01 0ZM185.50 388.44a1.5 1.5 0 1 0 0.01 0ZM186.14 389.50a1.5 1.5 0 1 0 0.01 0ZM186.77 390.23a1.5 1.5 0 1 0 0.01 0ZM187.67 391.31a1.5 1.5 0 1 0 0.01 0ZM187.99 393.24a1.5 1.5 0 1 0 0.01 0ZM188.30 393.15a1.5 1.5 0 1 0 0.01 0ZM189.29 395.81a1.5 1.5 0 1 0 0.01 0ZM189.44 396.03a1.5 1.5 0 1 0 0.01 0ZM190.29 399.01a1.5 1.5 0 1 0 0.01 0ZM190.51 400.19a1.5 1.5 0 1 0 0.01 0ZM191.47 400.38a1.5 1.5 0 1 0 0.01 0ZM191.75 400.27a1.5 1.5 0 1 0 0.01 0ZM192.07 402.88a1.5 1.5 0 1 0 0.01 0ZM192.74 403.22a1.5 1.5 0 1 0 0.01 0ZM193.20 402.89a1.5 1.5 0 1 0 0.01 0ZM195.61 402.75a1.5 1.5 0 1 0 0.01 0ZM197.11 404.76a1.5 1.5 0 1 0 0.01 0ZM199.48 403.17a1.5 1.5 0 1 0 0.01 0ZM202.07 404.42a1.5 1.5 0 1 0 0.01 0ZM193.13 405.24a1.5 1.5 0 1 0 0.01 0ZM195.50 406.64a1.5 1.5 0 1 0 0.01 0ZM196.41 407.22a1.5 1.5 0 1 0 0.01 0ZM199.43 406.47a1.5 1.5 0 1 0 0.01 0ZM201.11 408.34a1.5 1.5 0 1 0 0.01 0ZM203.58 409.06a1.5 1.5 0 1 0 0.01 0ZM193.83 409.97a1.5 1.5 0 1 0 0.01 0ZM196.57 410.69a1.5 1.5 0 1 0 0.01 0ZM198.72 411.10a1.5 1.5 0 1 0 0.01 0ZM200.06 411.44a1.5 1.5 0 1 0 0.01 0ZM201.92 412.99a1.5 1.5 0 1 0 0.01 0ZM204.74 413.56a1.5 1.5 0 1 0 0.01 0ZM194.42 413.66a1.5 1.5 0 1 0 0.01 0ZM197.47 414.78a1.5 1.5 0 1 0 0.01 0ZM199.28 416.10a1.5 1.5 0 1 0 0.01 0ZM200.99 416.06a1.5 1.5 0 1 0 0.01 0ZM203.78 416.98a1.5 1.5 0 1 0 0.01 0ZM196.28 417.74a1.5 1.5 0 1 0 0.01 0ZM198.35 419.00a1.5 1.5 0 1 0 0.01 0ZM199.82 419.22a1.5 1.5 0 1 0 0.01 0ZM202.48 419.95a1.5 1.5 0 1 0 0.01 0ZM196.90 421.85a1.5 1.5 0 1 0 0.01 0ZM199.43 422.09a1.5 1.5 0 1 0 0.01 0ZM201.14 422.86a1.5 1.5 0 1 0 0.01 0ZM203.09 421.63a1.5 1.5 0 1 0 0.01 0ZM193.49 416.17a1.5 1.5 0 1 0 0.01 0ZM205.59 411.46a1.5 1.5 0 1 0 0.01 0Z" fill="#4cc24c" stroke="#146c14" stroke-width="0.7"/>
<rect x="148.4" y="358.5" width="67.2" height="66.7" fill="none" stroke="#000" stroke-width="1.2"/>
<rect x="585.7" y="358.5" width="67.0" height="66.9" fill="#fff"/>
<path d="M598.0 358.5V425.4M600.7 358.5V425.4M603.1 358.5V425.4M605.1 358.5V425.4M619.0 358.5V425.4M625.2 358.5V425.4M629.6 358.5V425.4M633.0 358.5V425.4M635.7 358.5V425.4M638.1 358.5V425.4M640.1 358.5V425.4M585.7 375.4H652.7M585.7 364.9H652.7M585.7 386.9H652.7M585.7 397.4H652.7M585.7 386.9H652.7M585.7 408.9H652.7M585.7 419.4H652.7M585.7 408.9H652.7" stroke="#d4d4d4" stroke-width="0.5" stroke-dasharray="0.8 1.4" fill="none"/>
<path d="M585.7 375.4h3.5M652.7 375.4h-3.5M585.7 397.4h3.5M652.7 397.4h-3.5M585.7 419.4h3.5M652.7 419.4h-3.5M608.7 425.4v-3.5M608.7 358.5v3.5M643.7 425.4v-3.5M643.7 358.5v3.5" stroke="#333" stroke-width="0.8"/>
<path d="M588.29 360.20a1.5 1.5 0 1 0 0.01 0ZM592.60 361.40a1.5 1.5 0 1 0 0.01 0ZM595.79 362.60a1.5 1.5 0 1 0 0.01 0ZM598.29 363.30a1.5 1.5 0 1 0 0.01 0ZM600.63 364.83a1.5 1.5 0 1 0 0.01 0ZM602.24 366.17a1.5 1.5 0 1 0 0.01 0ZM603.66 367.36a1.5 1.5 0 1 0 0.01 0ZM605.05 367.88a1.5 1.5 0 1 0 0.01 0ZM606.61 368.11a1.5 1.5 0 1 0 0.01 0ZM608.48 367.90a1.5 1.5 0 1 0 0.01 0ZM610.21 368.47a1.5 1.5 0 1 0 0.01 0ZM611.76 369.28a1.5 1.5 0 1 0 0.01 0ZM613.15 367.97a1.5 1.5 0 1 0 0.01 0ZM614.78 369.18a1.5 1.5 0 1 0 0.01 0ZM616.32 369.01a1.5 1.5 0 1 0 0.01 0ZM617.74 370.23a1.5 1.5 0 1 0 0.01 0ZM618.46 371.03a1.5 1.5 0 1 0 0.01 0ZM619.39 371.19a1.5 1.5 0 1 0 0.01 0ZM620.31 371.35a1.5 1.5 0 1 0 0.01 0ZM621.68 372.65a1.5 1.5 0 1 0 0.01 0ZM622.72 372.58a1.5 1.5 0 1 0 0.01 0ZM623.54 373.41a1.5 1.5 0 1 0 0.01 0ZM624.28 374.65a1.5 1.5 0 1 0 0.01 0ZM625.70 376.14a1.5 1.5 0 1 0 0.01 0ZM626.62 377.16a1.5 1.5 0 1 0 0.01 0ZM627.36 376.76a1.5 1.5 0 1 0 0.01 0ZM628.47 377.79a1.5 1.5 0 1 0 0.01 0ZM629.32 378.90a1.5 1.5 0 1 0 0.01 0ZM630.57 379.92a1.5 1.5 0 1 0 0.01 0ZM631.13 381.13a1.5 1.5 0 1 0 0.01 0ZM632.28 381.15a1.5 1.5 0 1 0 0.01 0ZM632.49 381.08a1.5 1.5 0 1 0 0.01 0ZM633.72 381.70a1.5 1.5 0 1 0 0.01 0ZM634.37 384.02a1.5 1.5 0 1 0 0.01 0ZM634.88 386.17a1.5 1.5 0 1 0 0.01 0ZM635.46 386.58a1.5 1.5 0 1 0 0.01 0ZM636.47 387.87a1.5 1.5 0 1 0 0.01 0ZM637.44 389.62a1.5 1.5 0 1 0 0.01 0ZM637.78 390.53a1.5 1.5 0 1 0 0.01 0ZM638.82 392.39a1.5 1.5 0 1 0 0.01 0ZM639.57 394.35a1.5 1.5 0 1 0 0.01 0ZM640.43 397.08a1.5 1.5 0 1 0 0.01 0ZM641.11 398.09a1.5 1.5 0 1 0 0.01 0ZM641.73 400.25a1.5 1.5 0 1 0 0.01 0ZM642.20 403.07a1.5 1.5 0 1 0 0.01 0ZM643.37 405.03a1.5 1.5 0 1 0 0.01 0ZM643.86 407.50a1.5 1.5 0 1 0 0.01 0ZM644.86 409.93a1.5 1.5 0 1 0 0.01 0ZM645.56 411.77a1.5 1.5 0 1 0 0.01 0ZM646.18 413.29a1.5 1.5 0 1 0 0.01 0ZM647.24 413.67a1.5 1.5 0 1 0 0.01 0ZM648.00 416.30a1.5 1.5 0 1 0 0.01 0ZM648.27 418.97a1.5 1.5 0 1 0 0.01 0ZM649.32 422.36a1.5 1.5 0 1 0 0.01 0ZM649.92 423.31a1.5 1.5 0 1 0 0.01 0ZM649.68 423.96a1.5 1.5 0 1 0 0.01 0ZM646.79 415.66a1.5 1.5 0 1 0 0.01 0ZM648.55 417.04a1.5 1.5 0 1 0 0.01 0ZM644.89 407.65a1.5 1.5 0 1 0 0.01 0ZM650.80 421.02a1.5 1.5 0 1 0 0.01 0ZM645.72 410.56a1.5 1.5 0 1 0 0.01 0ZM646.79 420.80a1.5 1.5 0 1 0 0.01 0Z" fill="#a51515" stroke="#5e0606" stroke-width="0.7"/>
<rect x="585.7" y="358.5" width="67.0" height="66.9" fill="none" stroke="#000" stroke-width="1.2"/>
<g font-family="Liberation Sans, sans-serif" fill="#000" opacity="0.999"><text x="56.5" y="17.6" font-size="19.0" text-anchor="end">0</text>
<text x="56.5" y="84.8" font-size="19.0" text-anchor="end" textLength="25.8" lengthAdjust="spacingAndGlyphs">-10</text>
<text x="56.5" y="152.0" font-size="19.0" text-anchor="end" textLength="25.8" lengthAdjust="spacingAndGlyphs">-20</text>
<text x="56.5" y="219.2" font-size="19.0" text-anchor="end" textLength="25.8" lengthAdjust="spacingAndGlyphs">-30</text>
<text x="56.5" y="286.4" font-size="19.0" text-anchor="end" textLength="25.8" lengthAdjust="spacingAndGlyphs">-40</text>
<text x="140.1" y="299.3" font-size="19.0" text-anchor="middle" textLength="45.0" lengthAdjust="spacingAndGlyphs">1500</text>
<text x="260.7" y="299.3" font-size="19.0" text-anchor="middle" textLength="45.0" lengthAdjust="spacingAndGlyphs">1550</text>
<text x="381.2" y="299.3" font-size="19.0" text-anchor="middle" textLength="45.0" lengthAdjust="spacingAndGlyphs">1600</text>
<text x="501.6" y="299.3" font-size="19.0" text-anchor="middle" textLength="45.0" lengthAdjust="spacingAndGlyphs">1650</text>
<text x="622.1" y="299.3" font-size="19.0" text-anchor="middle" textLength="45.0" lengthAdjust="spacingAndGlyphs">1700</text>
<text x="366.9" y="319.6" font-size="19.0" text-anchor="middle" textLength="146.0" lengthAdjust="spacingAndGlyphs">Wavelength (nm)</text>
<text transform="translate(17.4 138.2) rotate(-90)" font-size="19" text-anchor="middle" textLength="207" lengthAdjust="spacingAndGlyphs">Spectral Intensity (dB)</text>
<text x="651.6" y="32.0" font-size="20.0" text-anchor="middle" font-weight="bold">a</text>
<text x="59.3" y="350.1" font-size="16.0" text-anchor="end" textLength="31.6" lengthAdjust="spacingAndGlyphs">0.16</text>
<text x="59.3" y="383.6" font-size="16.0" text-anchor="end" textLength="31.6" lengthAdjust="spacingAndGlyphs">0.12</text>
<text x="59.3" y="417.2" font-size="16.0" text-anchor="end" textLength="31.6" lengthAdjust="spacingAndGlyphs">0.08</text>
<text x="59.3" y="450.7" font-size="16.0" text-anchor="end" textLength="31.6" lengthAdjust="spacingAndGlyphs">0.04</text>
<text x="58.0" y="484.2" font-size="16.0" text-anchor="end">0</text>
<text x="115.7" y="495.2" font-size="16.0" text-anchor="middle" textLength="31.6" lengthAdjust="spacingAndGlyphs">0.10</text>
<text x="165.3" y="495.2" font-size="16.0" text-anchor="middle" textLength="31.6" lengthAdjust="spacingAndGlyphs">0.20</text>
<text x="214.6" y="495.2" font-size="16.0" text-anchor="middle" textLength="31.6" lengthAdjust="spacingAndGlyphs">0.30</text>
<text x="212.2" y="470.4" font-size="20.5" text-anchor="middle" font-weight="bold">b</text>
<text x="278.4" y="350.1" font-size="16.0" text-anchor="end" textLength="31.6" lengthAdjust="spacingAndGlyphs">0.10</text>
<text x="278.4" y="376.9" font-size="16.0" text-anchor="end" textLength="31.6" lengthAdjust="spacingAndGlyphs">0.08</text>
<text x="278.4" y="403.7" font-size="16.0" text-anchor="end" textLength="31.6" lengthAdjust="spacingAndGlyphs">0.06</text>
<text x="278.4" y="430.6" font-size="16.0" text-anchor="end" textLength="31.6" lengthAdjust="spacingAndGlyphs">0.04</text>
<text x="278.4" y="457.4" font-size="16.0" text-anchor="end" textLength="31.6" lengthAdjust="spacingAndGlyphs">0.02</text>
<text x="277.1" y="484.2" font-size="16.0" text-anchor="end">0</text>
<text x="318.3" y="495.2" font-size="16.0" text-anchor="middle">0.5</text>
<text x="363.8" y="495.2" font-size="16.0" text-anchor="middle">1.0</text>
<text x="407.3" y="495.2" font-size="16.0" text-anchor="middle">1.5</text>
<text x="452.0" y="495.2" font-size="16.0" text-anchor="middle">2.0</text>
<text x="434.2" y="470.4" font-size="20.5" text-anchor="middle" font-weight="bold">c</text>
<text x="496.4" y="350.1" font-size="16.0" text-anchor="end" textLength="31.6" lengthAdjust="spacingAndGlyphs">0.30</text>
<text x="496.4" y="372.5" font-size="16.0" text-anchor="end" textLength="31.6" lengthAdjust="spacingAndGlyphs">0.25</text>
<text x="496.4" y="394.8" font-size="16.0" text-anchor="end" textLength="31.6" lengthAdjust="spacingAndGlyphs">0.20</text>
<text x="496.4" y="417.2" font-size="16.0" text-anchor="end" textLength="31.6" lengthAdjust="spacingAndGlyphs">0.15</text>
<text x="496.4" y="439.5" font-size="16.0" text-anchor="end" textLength="31.6" lengthAdjust="spacingAndGlyphs">0.10</text>
<text x="496.4" y="461.9" font-size="16.0" text-anchor="end" textLength="31.6" lengthAdjust="spacingAndGlyphs">0.05</text>
<text x="495.1" y="484.2" font-size="16.0" text-anchor="end">0</text>
<text x="541.2" y="495.2" font-size="16.0" text-anchor="middle" textLength="31.6" lengthAdjust="spacingAndGlyphs">0.04</text>
<text x="583.8" y="495.2" font-size="16.0" text-anchor="middle" textLength="31.6" lengthAdjust="spacingAndGlyphs">0.08</text>
<text x="625.4" y="495.2" font-size="16.0" text-anchor="middle" textLength="31.6" lengthAdjust="spacingAndGlyphs">0.12</text>
<text x="664.9" y="495.2" font-size="16.0" text-anchor="middle" textLength="31.6" lengthAdjust="spacingAndGlyphs">0.16</text>
<text x="651.1" y="470.4" font-size="20.5" text-anchor="middle" font-weight="bold">d</text>
<text x="146.1" y="373.7" font-size="9.4" text-anchor="end">10<tspan font-size="7" dy="-4.3">-2</tspan></text>
<text x="146.1" y="397.8" font-size="9.4" text-anchor="end">10<tspan font-size="7" dy="-4.3">-3</tspan></text>
<text x="146.1" y="421.9" font-size="9.4" text-anchor="end">10<tspan font-size="7" dy="-4.3">-4</tspan></text>
<text x="171.2" y="436.0" font-size="9.6" text-anchor="middle">0.1</text>
<text x="583.4" y="379.2" font-size="9.4" text-anchor="end">10<tspan font-size="7" dy="-4.3">-2</tspan></text>
<text x="583.4" y="401.2" font-size="9.4" text-anchor="end">10<tspan font-size="7" dy="-4.3">-3</tspan></text>
<text x="583.4" y="423.2" font-size="9.4" text-anchor="end">10<tspan font-size="7" dy="-4.3">-4</tspan></text>
<text x="608.7" y="436.0" font-size="9.6" text-anchor="middle">0.01</text>
<text x="643.7" y="436.0" font-size="9.6" text-anchor="middle">0.1</text>
<text x="147.0" y="514.6" font-size="16.2" text-anchor="middle" textLength="167.0" lengthAdjust="spacingAndGlyphs">Event Intensity (a.u.)</text>
<text x="366.0" y="514.6" font-size="16.2" text-anchor="middle" textLength="167.0" lengthAdjust="spacingAndGlyphs">Event Intensity (a.u.)</text>
<text x="583.0" y="514.6" font-size="16.2" text-anchor="middle" textLength="167.0" lengthAdjust="spacingAndGlyphs">Event Intensity (a.u.)</text>
<text transform="translate(17.4 421.8) rotate(-90)" font-size="15.8" text-anchor="middle" textLength="179" lengthAdjust="spacingAndGlyphs">Normalised Frequency</text></g>
</svg></body></html>
